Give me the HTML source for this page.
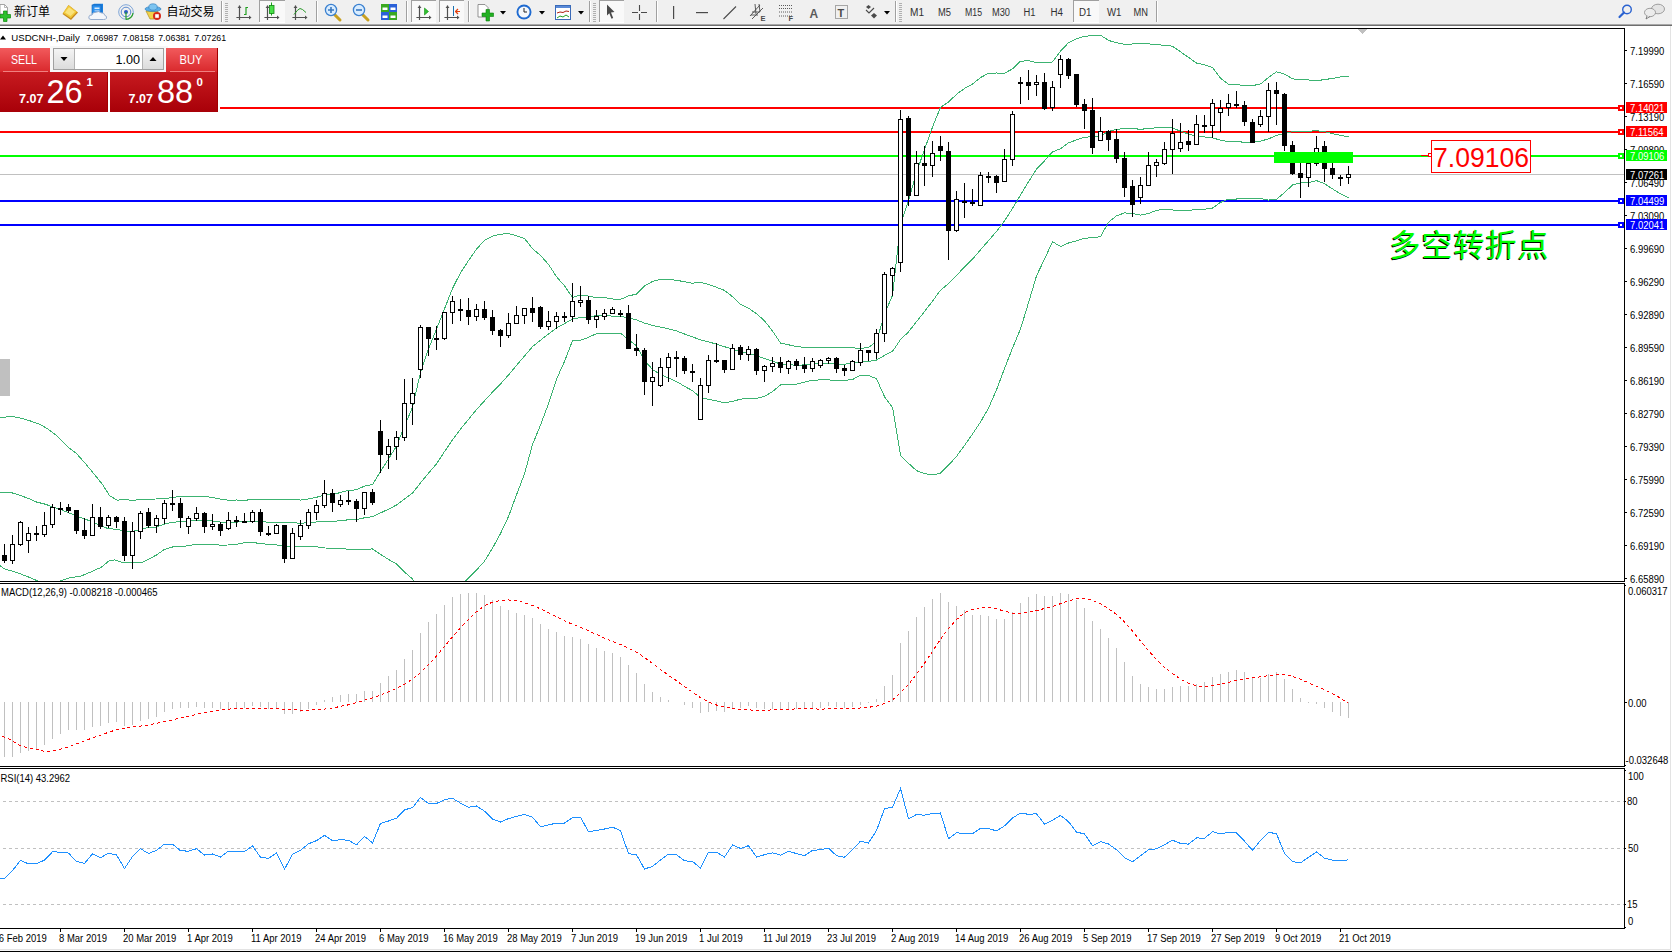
<!DOCTYPE html>
<html><head><meta charset="utf-8"><title>USDCNH Daily</title>
<style>
html,body{margin:0;padding:0;width:1672px;height:952px;overflow:hidden;background:#fff;}
svg{display:block;}
text{white-space:pre;}
</style></head><body>
<svg width="1672" height="952" viewBox="0 0 1672 952">
<defs><clipPath id="cm"><rect x="0" y="29" width="1624" height="552"/></clipPath><clipPath id="cmacd"><rect x="0" y="584" width="1624" height="182"/></clipPath><clipPath id="crsi"><rect x="0" y="769" width="1624" height="159"/></clipPath><linearGradient id="gTab" x1="0" y1="0" x2="0" y2="1"><stop offset="0" stop-color="#f25a5c"/><stop offset="1" stop-color="#d9282c"/></linearGradient><linearGradient id="gBig" x1="0" y1="0" x2="0" y2="1"><stop offset="0" stop-color="#d92a2e"/><stop offset="1" stop-color="#a80008"/></linearGradient><linearGradient id="gBtn" x1="0" y1="0" x2="0" y2="1"><stop offset="0" stop-color="#f4f4f4"/><stop offset="1" stop-color="#dcdcdc"/></linearGradient></defs>
<rect x="0" y="0" width="1672" height="952" fill="#ffffff"/>
<rect x="0" y="0" width="1672" height="24" fill="#f0f0f0"/>
<rect x="0" y="24" width="1672" height="1" fill="#a8a8a8"/>
<rect x="0" y="25" width="1672" height="1" fill="#6e6e6e"/>
<rect x="1670" y="26" width="1" height="924" fill="#e3e3e3"/>
<rect x="0" y="949" width="1671" height="1" fill="#e3e3e3"/>
<rect x="0" y="950" width="1672" height="1" fill="#f6f6f6"/>
<rect x="0" y="951" width="1672" height="1" fill="#000000"/>
<g shape-rendering="crispEdges">
<rect x="0" y="28" width="1625" height="1" fill="#000"/>
<rect x="0" y="581" width="1625" height="1" fill="#000"/>
<rect x="0" y="583" width="1625" height="1" fill="#000"/>
<rect x="0" y="766" width="1625" height="1" fill="#000"/>
<rect x="0" y="768" width="1625" height="1" fill="#000"/>
<rect x="0" y="928" width="1625" height="1" fill="#000"/>
<rect x="1624" y="28" width="1" height="554" fill="#000"/>
<rect x="1624" y="583" width="1" height="184" fill="#000"/>
<rect x="1624" y="768" width="1" height="161" fill="#000"/>
<polygon points="1357.5,29 1367.5,29 1362.5,34.5" fill="#c0c0c0"/>
<rect x="0" y="359" width="10" height="37" fill="#c0c0c0"/>
<rect x="1625" y="50" width="2" height="1" fill="#000"/>
<rect x="1625" y="83" width="2" height="1" fill="#000"/>
<rect x="1625" y="116" width="2" height="1" fill="#000"/>
<rect x="1625" y="149" width="2" height="1" fill="#000"/>
<rect x="1625" y="182" width="2" height="1" fill="#000"/>
<rect x="1625" y="215" width="2" height="1" fill="#000"/>
<rect x="1625" y="248" width="2" height="1" fill="#000"/>
<rect x="1625" y="281" width="2" height="1" fill="#000"/>
<rect x="1625" y="314" width="2" height="1" fill="#000"/>
<rect x="1625" y="347" width="2" height="1" fill="#000"/>
<rect x="1625" y="380" width="2" height="1" fill="#000"/>
<rect x="1625" y="413" width="2" height="1" fill="#000"/>
<rect x="1625" y="446" width="2" height="1" fill="#000"/>
<rect x="1625" y="479" width="2" height="1" fill="#000"/>
<rect x="1625" y="512" width="2" height="1" fill="#000"/>
<rect x="1625" y="545" width="2" height="1" fill="#000"/>
<rect x="1625" y="578" width="2" height="1" fill="#000"/>
<rect x="0" y="107" width="1618" height="2" fill="#ff0000"/>
<rect x="0" y="131" width="1618" height="2" fill="#ff0000"/>
<rect x="0" y="155" width="1618" height="2" fill="#00ff00"/>
<rect x="0" y="174" width="1624" height="1" fill="#c0c0c0"/>
<rect x="0" y="200" width="1618" height="2" fill="#0000ff"/>
<rect x="0" y="224" width="1618" height="2" fill="#0000ff"/>
<rect x="1618" y="105" width="6" height="6" fill="#ff0000"/>
<rect x="1620" y="107" width="2" height="2" fill="#ffffff"/>
<rect x="1618" y="129" width="6" height="6" fill="#ff0000"/>
<rect x="1620" y="131" width="2" height="2" fill="#ffffff"/>
<rect x="1618" y="153" width="6" height="6" fill="#00ff00"/>
<rect x="1620" y="155" width="2" height="2" fill="#ffffff"/>
<rect x="1618" y="198" width="6" height="6" fill="#0000ff"/>
<rect x="1620" y="200" width="2" height="2" fill="#ffffff"/>
<rect x="1618" y="222" width="6" height="6" fill="#0000ff"/>
<rect x="1620" y="224" width="2" height="2" fill="#ffffff"/>
</g>
<g shape-rendering="crispEdges" clip-path="url(#cm)">
<polyline points="-3.5,418.0 0.5,417.5 12.5,416.5 22.5,418.5 30.5,421.0 40.5,424.5 48.5,429.5 56.5,435.5 68.5,447.5 76.5,453.5 84.5,462.5 94.5,474.5 102.5,484.5 109.5,495.5 117.1,500.1 127.1,499.6 133.1,501.1 139.2,499.1 148.5,499.1 156.5,499.0 164.5,498.9 172.5,497.2 180.5,496.8 188.5,496.6 196.5,496.1 204.5,496.1 212.5,497.6 220.5,499.1 228.5,500.2 236.5,500.0 244.5,500.2 252.5,499.7 260.5,499.6 268.5,499.8 276.5,500.0 284.5,499.2 292.5,499.2 300.5,500.1 308.5,499.0 316.5,497.3 324.5,495.0 332.5,494.8 340.5,492.4 348.5,490.4 356.5,489.8 364.5,486.1 372.5,484.5 380.5,471.5 388.5,458.9 396.5,446.2 404.5,426.1 412.5,407.3 420.5,372.7 428.5,349.0 436.5,329.1 444.5,308.9 452.5,288.4 460.5,272.8 468.5,260.6 476.5,249.1 484.5,240.3 492.5,236.1 500.5,234.3 508.5,233.5 516.5,235.8 524.5,238.4 532.5,248.7 540.5,255.4 548.5,264.4 556.5,276.7 564.5,285.8 572.5,297.4 580.5,295.0 588.5,296.1 596.5,297.6 604.5,297.6 612.5,299.0 620.5,299.4 628.5,295.9 636.5,294.1 644.5,285.9 652.5,281.4 660.5,279.5 668.5,279.4 676.5,280.3 684.5,281.7 692.5,283.2 700.5,282.4 708.5,284.4 716.5,287.3 724.5,290.4 732.5,296.7 740.5,304.3 748.5,308.2 756.5,313.6 764.5,320.8 772.5,331.0 780.5,343.0 788.5,344.8 796.5,346.6 804.5,347.4 812.5,347.6 820.5,347.3 828.5,347.4 836.5,347.9 844.5,347.9 852.5,347.8 860.5,348.5 868.5,347.5 876.5,341.6 884.5,314.1 892.5,295.4 900.5,224.1 908.5,200.6 916.5,172.6 924.5,149.5 932.5,127.1 940.5,107.3 948.5,102.1 956.5,94.3 964.5,88.5 972.5,84.0 980.5,77.6 988.5,73.3 996.5,73.0 1004.5,73.2 1012.5,68.9 1020.5,61.2 1028.5,60.7 1036.5,62.5 1044.5,62.7 1052.5,62.0 1060.5,51.2 1068.5,42.7 1076.5,38.9 1084.5,36.1 1092.5,35.9 1100.5,35.2 1108.5,40.4 1116.5,42.8 1124.5,44.3 1132.5,44.0 1140.5,43.3 1148.5,43.8 1156.5,44.9 1164.5,45.1 1172.5,46.2 1180.5,51.8 1188.5,57.4 1196.5,63.0 1204.5,64.8 1212.5,67.5 1220.5,78.1 1228.5,84.3 1236.5,84.3 1244.5,85.8 1252.5,85.6 1260.5,84.0 1268.5,77.4 1276.5,71.8 1284.5,74.1 1292.5,78.8 1300.5,79.9 1308.5,80.0 1316.5,80.7 1324.5,79.6 1332.5,78.4 1340.5,77.0 1348.5,76.1" fill="none" stroke="#3cb371" stroke-width="1"/>
<polyline points="-3.5,491.0 0.5,492.3 12.5,493.0 20.5,495.5 28.5,498.5 36.5,502.0 44.5,504.0 50.7,506.1 60.5,509.5 70.8,513.6 80.5,517.5 90.9,521.2 101.0,525.7 107.0,528.2 121.1,530.2 129.1,531.7 136.1,530.7 143.2,528.7 148.5,527.5 156.5,527.0 164.5,524.1 172.5,522.1 180.5,521.9 188.5,521.1 196.5,520.1 204.5,520.1 212.5,521.0 220.5,522.1 228.5,522.6 236.5,522.1 244.5,521.5 252.5,521.2 260.5,521.5 268.5,522.2 276.5,522.5 284.5,522.6 292.5,522.7 300.5,523.3 308.5,522.6 316.5,522.0 324.5,521.5 332.5,521.5 340.5,520.6 348.5,519.8 356.5,519.5 364.5,517.8 372.5,516.7 380.5,512.9 388.5,509.2 396.5,505.0 404.5,499.1 412.5,493.1 420.5,482.9 428.5,473.2 436.5,463.9 444.5,451.6 452.5,439.9 460.5,429.1 468.5,419.4 476.5,409.6 484.5,400.8 492.5,392.1 500.5,383.9 508.5,375.0 516.5,365.4 524.5,356.1 532.5,346.6 540.5,340.2 548.5,334.0 556.5,327.9 564.5,323.6 572.5,319.0 580.5,317.6 588.5,316.7 596.5,315.6 604.5,315.6 612.5,316.1 620.5,316.2 628.5,317.9 636.5,319.9 644.5,323.1 652.5,325.4 660.5,327.1 668.5,328.8 676.5,330.9 684.5,334.0 692.5,336.9 700.5,339.9 708.5,341.9 716.5,344.1 724.5,346.7 732.5,349.1 740.5,351.8 748.5,353.2 756.5,355.9 764.5,358.6 772.5,361.3 780.5,364.0 788.5,364.6 796.5,365.4 804.5,364.8 812.5,363.9 820.5,363.6 828.5,363.6 836.5,364.1 844.5,364.1 852.5,363.6 860.5,361.9 868.5,361.5 876.5,360.1 884.5,355.4 892.5,351.4 900.5,339.6 908.5,331.9 916.5,321.6 924.5,311.6 932.5,301.1 940.5,290.2 948.5,283.6 956.5,275.4 964.5,267.0 972.5,259.1 980.5,249.8 988.5,240.7 996.5,231.4 1004.5,220.8 1012.5,208.5 1020.5,195.1 1028.5,181.8 1036.5,169.2 1044.5,160.9 1052.5,151.8 1060.5,148.8 1068.5,142.8 1076.5,139.9 1084.5,137.2 1092.5,136.8 1100.5,135.9 1108.5,131.3 1116.5,129.3 1124.5,128.6 1132.5,128.7 1140.5,129.2 1148.5,128.7 1156.5,127.7 1164.5,127.2 1172.5,128.1 1180.5,131.1 1188.5,134.1 1196.5,136.2 1204.5,137.0 1212.5,137.8 1220.5,140.2 1228.5,141.7 1236.5,141.7 1244.5,142.2 1252.5,141.9 1260.5,141.2 1268.5,138.8 1276.5,135.5 1284.5,133.4 1292.5,131.8 1300.5,131.4 1308.5,131.3 1316.5,130.7 1324.5,131.6 1332.5,133.7 1340.5,135.4 1348.5,136.9" fill="none" stroke="#3cb371" stroke-width="1"/>
<polyline points="-3.5,564.0 0.5,565.9 4.5,568.9 11.5,570.9 20.5,573.9 28.5,577.0 35.5,580.0 44.5,583.5 52.5,583.5 62.8,580.0 70.8,577.5 79.9,576.5 90.9,571.9 101.0,567.4 109.0,560.9 115.0,559.9 124.1,562.9 141.2,562.9 149.2,558.9 156.5,555.0 164.5,549.4 172.5,547.0 180.5,546.9 188.5,545.6 196.5,544.1 204.5,544.2 212.5,544.4 220.5,545.1 228.5,545.0 236.5,544.3 244.5,542.7 252.5,542.7 260.5,543.3 268.5,544.7 276.5,544.9 284.5,546.0 292.5,546.2 300.5,546.5 308.5,546.3 316.5,546.7 324.5,548.0 332.5,548.1 340.5,548.8 348.5,549.1 356.5,549.2 364.5,549.5 372.5,548.9 380.5,554.3 388.5,559.5 396.5,563.8 404.5,572.1 412.5,579.0 420.5,593.2 428.5,597.4 436.5,598.6 444.5,594.2 452.5,591.5 460.5,585.5 468.5,578.1 476.5,570.0 484.5,561.2 492.5,548.2 500.5,533.5 508.5,516.5 516.5,494.9 524.5,473.9 532.5,444.6 540.5,425.1 548.5,403.6 556.5,379.2 564.5,361.4 572.5,340.6 580.5,340.3 588.5,337.3 596.5,333.6 604.5,333.7 612.5,333.1 620.5,333.1 628.5,339.8 636.5,345.7 644.5,360.3 652.5,369.5 660.5,374.6 668.5,378.1 676.5,381.5 684.5,386.3 692.5,390.7 700.5,397.4 708.5,399.3 716.5,400.8 724.5,403.0 732.5,401.4 740.5,399.2 748.5,398.3 756.5,398.3 764.5,396.4 772.5,391.6 780.5,385.0 788.5,384.5 796.5,384.2 804.5,382.1 812.5,380.3 820.5,379.9 828.5,379.9 836.5,380.4 844.5,380.4 852.5,379.5 860.5,375.3 868.5,375.5 876.5,378.7 884.5,396.7 892.5,407.4 900.5,455.2 908.5,463.3 916.5,470.6 924.5,473.6 932.5,475.0 940.5,473.1 948.5,465.2 956.5,456.4 964.5,445.5 972.5,434.1 980.5,422.0 988.5,408.1 996.5,389.8 1004.5,368.5 1012.5,348.1 1020.5,329.0 1028.5,302.8 1036.5,275.9 1044.5,259.1 1052.5,241.7 1060.5,246.5 1068.5,243.0 1076.5,240.9 1084.5,238.2 1092.5,237.8 1100.5,236.6 1108.5,222.3 1116.5,215.8 1124.5,212.9 1132.5,213.4 1140.5,215.1 1148.5,213.5 1156.5,210.4 1164.5,209.2 1172.5,210.0 1180.5,210.4 1188.5,210.7 1196.5,209.3 1204.5,209.2 1212.5,208.1 1220.5,202.4 1228.5,199.0 1236.5,199.0 1244.5,198.6 1252.5,198.3 1260.5,198.4 1268.5,200.1 1276.5,199.2 1284.5,192.7 1292.5,184.9 1300.5,183.0 1308.5,182.7 1316.5,180.6 1324.5,183.6 1332.5,188.9 1340.5,193.8 1348.5,197.7" fill="none" stroke="#3cb371" stroke-width="1"/>
</g>
<g shape-rendering="crispEdges">
<rect x="4" y="544" width="1" height="19" fill="#000"/>
<rect x="2" y="555" width="5" height="6" fill="#000"/>
<rect x="12" y="535" width="1" height="29" fill="#000"/>
<rect x="10" y="544" width="5" height="17" fill="#000"/>
<rect x="11" y="545" width="3" height="15" fill="#fff"/>
<rect x="20" y="521" width="1" height="25" fill="#000"/>
<rect x="18" y="522" width="5" height="23" fill="#000"/>
<rect x="19" y="523" width="3" height="21" fill="#fff"/>
<rect x="28" y="527" width="1" height="26" fill="#000"/>
<rect x="26" y="533" width="5" height="8" fill="#000"/>
<rect x="27" y="534" width="3" height="6" fill="#fff"/>
<rect x="36" y="526" width="1" height="15" fill="#000"/>
<rect x="34" y="533" width="5" height="2" fill="#000"/>
<rect x="44" y="512" width="1" height="25" fill="#000"/>
<rect x="42" y="525" width="5" height="10" fill="#000"/>
<rect x="43" y="526" width="3" height="8" fill="#fff"/>
<rect x="52" y="504" width="1" height="24" fill="#000"/>
<rect x="50" y="507" width="5" height="18" fill="#000"/>
<rect x="51" y="508" width="3" height="16" fill="#fff"/>
<rect x="60" y="502" width="1" height="13" fill="#000"/>
<rect x="58" y="508" width="5" height="2" fill="#000"/>
<rect x="68" y="504" width="1" height="9" fill="#000"/>
<rect x="66" y="507" width="5" height="4" fill="#000"/>
<rect x="76" y="510" width="1" height="24" fill="#000"/>
<rect x="74" y="510" width="5" height="21" fill="#000"/>
<rect x="84" y="518" width="1" height="21" fill="#000"/>
<rect x="82" y="530" width="5" height="6" fill="#000"/>
<rect x="92" y="504" width="1" height="32" fill="#000"/>
<rect x="90" y="517" width="5" height="19" fill="#000"/>
<rect x="91" y="518" width="3" height="17" fill="#fff"/>
<rect x="100" y="507" width="1" height="22" fill="#000"/>
<rect x="98" y="517" width="5" height="10" fill="#000"/>
<rect x="108" y="515" width="1" height="13" fill="#000"/>
<rect x="106" y="517" width="5" height="9" fill="#000"/>
<rect x="107" y="518" width="3" height="7" fill="#fff"/>
<rect x="116" y="516" width="1" height="12" fill="#000"/>
<rect x="114" y="517" width="5" height="5" fill="#000"/>
<rect x="124" y="517" width="1" height="44" fill="#000"/>
<rect x="122" y="521" width="5" height="35" fill="#000"/>
<rect x="132" y="522" width="1" height="47" fill="#000"/>
<rect x="130" y="531" width="5" height="25" fill="#000"/>
<rect x="131" y="532" width="3" height="23" fill="#fff"/>
<rect x="140" y="511" width="1" height="28" fill="#000"/>
<rect x="138" y="513" width="5" height="19" fill="#000"/>
<rect x="139" y="514" width="3" height="17" fill="#fff"/>
<rect x="148" y="508" width="1" height="20" fill="#000"/>
<rect x="146" y="512" width="5" height="14" fill="#000"/>
<rect x="156" y="515" width="1" height="18" fill="#000"/>
<rect x="154" y="518" width="5" height="8" fill="#000"/>
<rect x="155" y="519" width="3" height="6" fill="#fff"/>
<rect x="164" y="500" width="1" height="24" fill="#000"/>
<rect x="162" y="503" width="5" height="16" fill="#000"/>
<rect x="163" y="504" width="3" height="14" fill="#fff"/>
<rect x="172" y="490" width="1" height="21" fill="#000"/>
<rect x="170" y="503" width="5" height="2" fill="#000"/>
<rect x="180" y="498" width="1" height="30" fill="#000"/>
<rect x="178" y="503" width="5" height="15" fill="#000"/>
<rect x="188" y="516" width="1" height="18" fill="#000"/>
<rect x="186" y="518" width="5" height="9" fill="#000"/>
<rect x="187" y="519" width="3" height="7" fill="#fff"/>
<rect x="196" y="507" width="1" height="14" fill="#000"/>
<rect x="194" y="513" width="5" height="6" fill="#000"/>
<rect x="195" y="514" width="3" height="4" fill="#fff"/>
<rect x="204" y="512" width="1" height="21" fill="#000"/>
<rect x="202" y="513" width="5" height="14" fill="#000"/>
<rect x="212" y="514" width="1" height="16" fill="#000"/>
<rect x="210" y="524" width="5" height="3" fill="#000"/>
<rect x="211" y="525" width="3" height="1" fill="#fff"/>
<rect x="220" y="522" width="1" height="14" fill="#000"/>
<rect x="218" y="524" width="5" height="7" fill="#000"/>
<rect x="228" y="512" width="1" height="18" fill="#000"/>
<rect x="226" y="520" width="5" height="9" fill="#000"/>
<rect x="227" y="521" width="3" height="7" fill="#fff"/>
<rect x="236" y="516" width="1" height="11" fill="#000"/>
<rect x="234" y="520" width="5" height="2" fill="#000"/>
<rect x="244" y="513" width="1" height="10" fill="#000"/>
<rect x="242" y="521" width="5" height="2" fill="#000"/>
<rect x="252" y="510" width="1" height="13" fill="#000"/>
<rect x="250" y="512" width="5" height="10" fill="#000"/>
<rect x="251" y="513" width="3" height="8" fill="#fff"/>
<rect x="260" y="509" width="1" height="27" fill="#000"/>
<rect x="258" y="512" width="5" height="20" fill="#000"/>
<rect x="268" y="526" width="1" height="10" fill="#000"/>
<rect x="266" y="533" width="5" height="2" fill="#000"/>
<rect x="276" y="524" width="1" height="10" fill="#000"/>
<rect x="274" y="525" width="5" height="9" fill="#000"/>
<rect x="275" y="526" width="3" height="7" fill="#fff"/>
<rect x="284" y="525" width="1" height="38" fill="#000"/>
<rect x="282" y="525" width="5" height="34" fill="#000"/>
<rect x="292" y="528" width="1" height="31" fill="#000"/>
<rect x="290" y="533" width="5" height="26" fill="#000"/>
<rect x="291" y="534" width="3" height="24" fill="#fff"/>
<rect x="300" y="520" width="1" height="20" fill="#000"/>
<rect x="298" y="525" width="5" height="12" fill="#000"/>
<rect x="299" y="526" width="3" height="10" fill="#fff"/>
<rect x="308" y="509" width="1" height="20" fill="#000"/>
<rect x="306" y="512" width="5" height="14" fill="#000"/>
<rect x="307" y="513" width="3" height="12" fill="#fff"/>
<rect x="316" y="500" width="1" height="20" fill="#000"/>
<rect x="314" y="505" width="5" height="8" fill="#000"/>
<rect x="315" y="506" width="3" height="6" fill="#fff"/>
<rect x="324" y="480" width="1" height="28" fill="#000"/>
<rect x="322" y="493" width="5" height="13" fill="#000"/>
<rect x="323" y="494" width="3" height="11" fill="#fff"/>
<rect x="332" y="489" width="1" height="23" fill="#000"/>
<rect x="330" y="493" width="5" height="10" fill="#000"/>
<rect x="340" y="495" width="1" height="12" fill="#000"/>
<rect x="338" y="500" width="5" height="5" fill="#000"/>
<rect x="339" y="501" width="3" height="3" fill="#fff"/>
<rect x="348" y="491" width="1" height="14" fill="#000"/>
<rect x="346" y="500" width="5" height="2" fill="#000"/>
<rect x="356" y="499" width="1" height="23" fill="#000"/>
<rect x="354" y="501" width="5" height="8" fill="#000"/>
<rect x="364" y="492" width="1" height="23" fill="#000"/>
<rect x="362" y="492" width="5" height="17" fill="#000"/>
<rect x="363" y="493" width="3" height="15" fill="#fff"/>
<rect x="372" y="489" width="1" height="16" fill="#000"/>
<rect x="370" y="492" width="5" height="11" fill="#000"/>
<rect x="380" y="420" width="1" height="53" fill="#000"/>
<rect x="378" y="431" width="5" height="24" fill="#000"/>
<rect x="388" y="439" width="1" height="30" fill="#000"/>
<rect x="386" y="446" width="5" height="9" fill="#000"/>
<rect x="387" y="447" width="3" height="7" fill="#fff"/>
<rect x="396" y="431" width="1" height="29" fill="#000"/>
<rect x="394" y="437" width="5" height="10" fill="#000"/>
<rect x="395" y="438" width="3" height="8" fill="#fff"/>
<rect x="404" y="379" width="1" height="62" fill="#000"/>
<rect x="402" y="403" width="5" height="35" fill="#000"/>
<rect x="403" y="404" width="3" height="33" fill="#fff"/>
<rect x="412" y="378" width="1" height="47" fill="#000"/>
<rect x="410" y="393" width="5" height="11" fill="#000"/>
<rect x="411" y="394" width="3" height="9" fill="#fff"/>
<rect x="420" y="325" width="1" height="53" fill="#000"/>
<rect x="418" y="327" width="5" height="43" fill="#000"/>
<rect x="419" y="328" width="3" height="41" fill="#fff"/>
<rect x="428" y="327" width="1" height="29" fill="#000"/>
<rect x="426" y="327" width="5" height="12" fill="#000"/>
<rect x="436" y="326" width="1" height="24" fill="#000"/>
<rect x="434" y="338" width="5" height="2" fill="#000"/>
<rect x="444" y="312" width="1" height="28" fill="#000"/>
<rect x="442" y="312" width="5" height="27" fill="#000"/>
<rect x="443" y="313" width="3" height="25" fill="#fff"/>
<rect x="452" y="296" width="1" height="28" fill="#000"/>
<rect x="450" y="301" width="5" height="12" fill="#000"/>
<rect x="451" y="302" width="3" height="10" fill="#fff"/>
<rect x="460" y="299" width="1" height="22" fill="#000"/>
<rect x="458" y="309" width="5" height="2" fill="#000"/>
<rect x="468" y="298" width="1" height="27" fill="#000"/>
<rect x="466" y="310" width="5" height="7" fill="#000"/>
<rect x="476" y="304" width="1" height="17" fill="#000"/>
<rect x="474" y="309" width="5" height="8" fill="#000"/>
<rect x="475" y="310" width="3" height="6" fill="#fff"/>
<rect x="484" y="301" width="1" height="19" fill="#000"/>
<rect x="482" y="309" width="5" height="9" fill="#000"/>
<rect x="492" y="310" width="1" height="25" fill="#000"/>
<rect x="490" y="317" width="5" height="14" fill="#000"/>
<rect x="500" y="329" width="1" height="18" fill="#000"/>
<rect x="498" y="330" width="5" height="6" fill="#000"/>
<rect x="508" y="313" width="1" height="25" fill="#000"/>
<rect x="506" y="323" width="5" height="13" fill="#000"/>
<rect x="507" y="324" width="3" height="11" fill="#fff"/>
<rect x="516" y="306" width="1" height="18" fill="#000"/>
<rect x="514" y="315" width="5" height="9" fill="#000"/>
<rect x="515" y="316" width="3" height="7" fill="#fff"/>
<rect x="524" y="308" width="1" height="16" fill="#000"/>
<rect x="522" y="308" width="5" height="8" fill="#000"/>
<rect x="523" y="309" width="3" height="6" fill="#fff"/>
<rect x="532" y="297" width="1" height="25" fill="#000"/>
<rect x="530" y="308" width="5" height="5" fill="#000"/>
<rect x="540" y="306" width="1" height="23" fill="#000"/>
<rect x="538" y="307" width="5" height="20" fill="#000"/>
<rect x="548" y="311" width="1" height="19" fill="#000"/>
<rect x="546" y="321" width="5" height="6" fill="#000"/>
<rect x="547" y="322" width="3" height="4" fill="#fff"/>
<rect x="556" y="312" width="1" height="17" fill="#000"/>
<rect x="554" y="316" width="5" height="6" fill="#000"/>
<rect x="555" y="317" width="3" height="4" fill="#fff"/>
<rect x="564" y="312" width="1" height="10" fill="#000"/>
<rect x="562" y="316" width="5" height="2" fill="#000"/>
<rect x="572" y="283" width="1" height="39" fill="#000"/>
<rect x="570" y="301" width="5" height="16" fill="#000"/>
<rect x="571" y="302" width="3" height="14" fill="#fff"/>
<rect x="580" y="286" width="1" height="21" fill="#000"/>
<rect x="578" y="300" width="5" height="3" fill="#000"/>
<rect x="579" y="301" width="3" height="1" fill="#fff"/>
<rect x="588" y="296" width="1" height="28" fill="#000"/>
<rect x="586" y="300" width="5" height="20" fill="#000"/>
<rect x="596" y="310" width="1" height="18" fill="#000"/>
<rect x="594" y="316" width="5" height="4" fill="#000"/>
<rect x="595" y="317" width="3" height="2" fill="#fff"/>
<rect x="604" y="309" width="1" height="11" fill="#000"/>
<rect x="602" y="313" width="5" height="4" fill="#000"/>
<rect x="603" y="314" width="3" height="2" fill="#fff"/>
<rect x="612" y="307" width="1" height="7" fill="#000"/>
<rect x="610" y="309" width="5" height="5" fill="#000"/>
<rect x="611" y="310" width="3" height="3" fill="#fff"/>
<rect x="620" y="310" width="1" height="7" fill="#000"/>
<rect x="618" y="313" width="5" height="2" fill="#000"/>
<rect x="628" y="305" width="1" height="44" fill="#000"/>
<rect x="626" y="313" width="5" height="36" fill="#000"/>
<rect x="636" y="334" width="1" height="22" fill="#000"/>
<rect x="634" y="348" width="5" height="3" fill="#000"/>
<rect x="644" y="348" width="1" height="47" fill="#000"/>
<rect x="642" y="350" width="5" height="32" fill="#000"/>
<rect x="652" y="362" width="1" height="44" fill="#000"/>
<rect x="650" y="377" width="5" height="5" fill="#000"/>
<rect x="651" y="378" width="3" height="3" fill="#fff"/>
<rect x="660" y="358" width="1" height="29" fill="#000"/>
<rect x="658" y="367" width="5" height="19" fill="#000"/>
<rect x="659" y="368" width="3" height="17" fill="#fff"/>
<rect x="668" y="353" width="1" height="29" fill="#000"/>
<rect x="666" y="357" width="5" height="11" fill="#000"/>
<rect x="667" y="358" width="3" height="9" fill="#fff"/>
<rect x="676" y="351" width="1" height="26" fill="#000"/>
<rect x="674" y="357" width="5" height="2" fill="#000"/>
<rect x="684" y="356" width="1" height="18" fill="#000"/>
<rect x="682" y="358" width="5" height="13" fill="#000"/>
<rect x="692" y="364" width="1" height="18" fill="#000"/>
<rect x="690" y="371" width="5" height="2" fill="#000"/>
<rect x="700" y="378" width="1" height="42" fill="#000"/>
<rect x="698" y="385" width="5" height="35" fill="#000"/>
<rect x="699" y="386" width="3" height="33" fill="#fff"/>
<rect x="708" y="355" width="1" height="38" fill="#000"/>
<rect x="706" y="360" width="5" height="26" fill="#000"/>
<rect x="707" y="361" width="3" height="24" fill="#fff"/>
<rect x="716" y="343" width="1" height="20" fill="#000"/>
<rect x="714" y="360" width="5" height="2" fill="#000"/>
<rect x="724" y="360" width="1" height="13" fill="#000"/>
<rect x="722" y="360" width="5" height="10" fill="#000"/>
<rect x="732" y="344" width="1" height="26" fill="#000"/>
<rect x="730" y="348" width="5" height="22" fill="#000"/>
<rect x="731" y="349" width="3" height="20" fill="#fff"/>
<rect x="740" y="345" width="1" height="15" fill="#000"/>
<rect x="738" y="347" width="5" height="8" fill="#000"/>
<rect x="748" y="346" width="1" height="15" fill="#000"/>
<rect x="746" y="349" width="5" height="6" fill="#000"/>
<rect x="747" y="350" width="3" height="4" fill="#fff"/>
<rect x="756" y="348" width="1" height="27" fill="#000"/>
<rect x="754" y="349" width="5" height="22" fill="#000"/>
<rect x="764" y="365" width="1" height="17" fill="#000"/>
<rect x="762" y="366" width="5" height="5" fill="#000"/>
<rect x="763" y="367" width="3" height="3" fill="#fff"/>
<rect x="772" y="357" width="1" height="15" fill="#000"/>
<rect x="770" y="363" width="5" height="4" fill="#000"/>
<rect x="771" y="364" width="3" height="2" fill="#fff"/>
<rect x="780" y="357" width="1" height="16" fill="#000"/>
<rect x="778" y="362" width="5" height="6" fill="#000"/>
<rect x="788" y="360" width="1" height="14" fill="#000"/>
<rect x="786" y="361" width="5" height="8" fill="#000"/>
<rect x="787" y="362" width="3" height="6" fill="#fff"/>
<rect x="796" y="359" width="1" height="11" fill="#000"/>
<rect x="794" y="361" width="5" height="5" fill="#000"/>
<rect x="804" y="357" width="1" height="16" fill="#000"/>
<rect x="802" y="365" width="5" height="4" fill="#000"/>
<rect x="812" y="358" width="1" height="14" fill="#000"/>
<rect x="810" y="361" width="5" height="8" fill="#000"/>
<rect x="811" y="362" width="3" height="6" fill="#fff"/>
<rect x="820" y="359" width="1" height="9" fill="#000"/>
<rect x="818" y="360" width="5" height="6" fill="#000"/>
<rect x="819" y="361" width="3" height="4" fill="#fff"/>
<rect x="828" y="357" width="1" height="7" fill="#000"/>
<rect x="826" y="358" width="5" height="3" fill="#000"/>
<rect x="827" y="359" width="3" height="1" fill="#fff"/>
<rect x="836" y="357" width="1" height="16" fill="#000"/>
<rect x="834" y="358" width="5" height="11" fill="#000"/>
<rect x="844" y="365" width="1" height="11" fill="#000"/>
<rect x="842" y="368" width="5" height="3" fill="#000"/>
<rect x="852" y="360" width="1" height="11" fill="#000"/>
<rect x="850" y="361" width="5" height="10" fill="#000"/>
<rect x="851" y="362" width="3" height="8" fill="#fff"/>
<rect x="860" y="343" width="1" height="23" fill="#000"/>
<rect x="858" y="350" width="5" height="13" fill="#000"/>
<rect x="859" y="351" width="3" height="11" fill="#fff"/>
<rect x="868" y="350" width="1" height="11" fill="#000"/>
<rect x="866" y="350" width="5" height="3" fill="#000"/>
<rect x="876" y="329" width="1" height="30" fill="#000"/>
<rect x="874" y="333" width="5" height="20" fill="#000"/>
<rect x="875" y="334" width="3" height="18" fill="#fff"/>
<rect x="884" y="272" width="1" height="70" fill="#000"/>
<rect x="882" y="274" width="5" height="60" fill="#000"/>
<rect x="883" y="275" width="3" height="58" fill="#fff"/>
<rect x="892" y="267" width="1" height="29" fill="#000"/>
<rect x="890" y="268" width="5" height="8" fill="#000"/>
<rect x="891" y="269" width="3" height="6" fill="#fff"/>
<rect x="900" y="110" width="1" height="162" fill="#000"/>
<rect x="898" y="119" width="5" height="144" fill="#000"/>
<rect x="899" y="120" width="3" height="142" fill="#fff"/>
<rect x="908" y="116" width="1" height="90" fill="#000"/>
<rect x="906" y="118" width="5" height="78" fill="#000"/>
<rect x="916" y="151" width="1" height="45" fill="#000"/>
<rect x="914" y="163" width="5" height="33" fill="#000"/>
<rect x="915" y="164" width="3" height="31" fill="#fff"/>
<rect x="924" y="146" width="1" height="40" fill="#000"/>
<rect x="922" y="163" width="5" height="3" fill="#000"/>
<rect x="932" y="141" width="1" height="36" fill="#000"/>
<rect x="930" y="153" width="5" height="13" fill="#000"/>
<rect x="931" y="154" width="3" height="11" fill="#fff"/>
<rect x="940" y="136" width="1" height="25" fill="#000"/>
<rect x="938" y="146" width="5" height="5" fill="#000"/>
<rect x="948" y="142" width="1" height="118" fill="#000"/>
<rect x="946" y="151" width="5" height="80" fill="#000"/>
<rect x="956" y="191" width="1" height="41" fill="#000"/>
<rect x="954" y="199" width="5" height="32" fill="#000"/>
<rect x="955" y="200" width="3" height="30" fill="#fff"/>
<rect x="964" y="183" width="1" height="35" fill="#000"/>
<rect x="962" y="201" width="5" height="2" fill="#000"/>
<rect x="972" y="189" width="1" height="17" fill="#000"/>
<rect x="970" y="202" width="5" height="2" fill="#000"/>
<rect x="980" y="172" width="1" height="34" fill="#000"/>
<rect x="978" y="175" width="5" height="31" fill="#000"/>
<rect x="979" y="176" width="3" height="29" fill="#fff"/>
<rect x="988" y="172" width="1" height="11" fill="#000"/>
<rect x="986" y="176" width="5" height="2" fill="#000"/>
<rect x="996" y="175" width="1" height="18" fill="#000"/>
<rect x="994" y="176" width="5" height="7" fill="#000"/>
<rect x="1004" y="149" width="1" height="33" fill="#000"/>
<rect x="1002" y="159" width="5" height="23" fill="#000"/>
<rect x="1003" y="160" width="3" height="21" fill="#fff"/>
<rect x="1012" y="111" width="1" height="55" fill="#000"/>
<rect x="1010" y="114" width="5" height="46" fill="#000"/>
<rect x="1011" y="115" width="3" height="44" fill="#fff"/>
<rect x="1020" y="77" width="1" height="27" fill="#000"/>
<rect x="1018" y="82" width="5" height="2" fill="#000"/>
<rect x="1028" y="70" width="1" height="30" fill="#000"/>
<rect x="1026" y="82" width="5" height="4" fill="#000"/>
<rect x="1036" y="75" width="1" height="21" fill="#000"/>
<rect x="1034" y="82" width="5" height="3" fill="#000"/>
<rect x="1035" y="83" width="3" height="1" fill="#fff"/>
<rect x="1044" y="73" width="1" height="37" fill="#000"/>
<rect x="1042" y="82" width="5" height="27" fill="#000"/>
<rect x="1052" y="81" width="1" height="30" fill="#000"/>
<rect x="1050" y="87" width="5" height="21" fill="#000"/>
<rect x="1051" y="88" width="3" height="19" fill="#fff"/>
<rect x="1060" y="55" width="1" height="33" fill="#000"/>
<rect x="1058" y="59" width="5" height="16" fill="#000"/>
<rect x="1059" y="60" width="3" height="14" fill="#fff"/>
<rect x="1068" y="58" width="1" height="21" fill="#000"/>
<rect x="1066" y="59" width="5" height="17" fill="#000"/>
<rect x="1076" y="74" width="1" height="33" fill="#000"/>
<rect x="1074" y="74" width="5" height="31" fill="#000"/>
<rect x="1084" y="99" width="1" height="30" fill="#000"/>
<rect x="1082" y="104" width="5" height="7" fill="#000"/>
<rect x="1092" y="98" width="1" height="56" fill="#000"/>
<rect x="1090" y="110" width="5" height="38" fill="#000"/>
<rect x="1100" y="117" width="1" height="24" fill="#000"/>
<rect x="1098" y="131" width="5" height="10" fill="#000"/>
<rect x="1099" y="132" width="3" height="8" fill="#fff"/>
<rect x="1108" y="130" width="1" height="21" fill="#000"/>
<rect x="1106" y="131" width="5" height="9" fill="#000"/>
<rect x="1116" y="129" width="1" height="34" fill="#000"/>
<rect x="1114" y="139" width="5" height="20" fill="#000"/>
<rect x="1124" y="152" width="1" height="45" fill="#000"/>
<rect x="1122" y="158" width="5" height="30" fill="#000"/>
<rect x="1132" y="180" width="1" height="37" fill="#000"/>
<rect x="1130" y="186" width="5" height="19" fill="#000"/>
<rect x="1140" y="177" width="1" height="27" fill="#000"/>
<rect x="1138" y="185" width="5" height="13" fill="#000"/>
<rect x="1139" y="186" width="3" height="11" fill="#fff"/>
<rect x="1148" y="152" width="1" height="34" fill="#000"/>
<rect x="1146" y="165" width="5" height="21" fill="#000"/>
<rect x="1147" y="166" width="3" height="19" fill="#fff"/>
<rect x="1156" y="159" width="1" height="18" fill="#000"/>
<rect x="1154" y="162" width="5" height="4" fill="#000"/>
<rect x="1155" y="163" width="3" height="2" fill="#fff"/>
<rect x="1164" y="142" width="1" height="23" fill="#000"/>
<rect x="1162" y="149" width="5" height="15" fill="#000"/>
<rect x="1163" y="150" width="3" height="13" fill="#fff"/>
<rect x="1172" y="119" width="1" height="55" fill="#000"/>
<rect x="1170" y="133" width="5" height="17" fill="#000"/>
<rect x="1171" y="134" width="3" height="15" fill="#fff"/>
<rect x="1180" y="123" width="1" height="29" fill="#000"/>
<rect x="1178" y="142" width="5" height="7" fill="#000"/>
<rect x="1179" y="143" width="3" height="5" fill="#fff"/>
<rect x="1188" y="130" width="1" height="21" fill="#000"/>
<rect x="1186" y="141" width="5" height="4" fill="#000"/>
<rect x="1196" y="115" width="1" height="30" fill="#000"/>
<rect x="1194" y="124" width="5" height="21" fill="#000"/>
<rect x="1195" y="125" width="3" height="19" fill="#fff"/>
<rect x="1204" y="115" width="1" height="18" fill="#000"/>
<rect x="1202" y="125" width="5" height="2" fill="#000"/>
<rect x="1212" y="99" width="1" height="39" fill="#000"/>
<rect x="1210" y="103" width="5" height="23" fill="#000"/>
<rect x="1211" y="104" width="3" height="21" fill="#fff"/>
<rect x="1220" y="100" width="1" height="32" fill="#000"/>
<rect x="1218" y="108" width="5" height="5" fill="#000"/>
<rect x="1219" y="109" width="3" height="3" fill="#fff"/>
<rect x="1228" y="94" width="1" height="22" fill="#000"/>
<rect x="1226" y="103" width="5" height="5" fill="#000"/>
<rect x="1227" y="104" width="3" height="3" fill="#fff"/>
<rect x="1236" y="91" width="1" height="17" fill="#000"/>
<rect x="1234" y="104" width="5" height="2" fill="#000"/>
<rect x="1244" y="101" width="1" height="25" fill="#000"/>
<rect x="1242" y="105" width="5" height="17" fill="#000"/>
<rect x="1252" y="119" width="1" height="24" fill="#000"/>
<rect x="1250" y="122" width="5" height="21" fill="#000"/>
<rect x="1260" y="110" width="1" height="17" fill="#000"/>
<rect x="1258" y="116" width="5" height="9" fill="#000"/>
<rect x="1259" y="117" width="3" height="7" fill="#fff"/>
<rect x="1268" y="83" width="1" height="49" fill="#000"/>
<rect x="1266" y="90" width="5" height="27" fill="#000"/>
<rect x="1267" y="91" width="3" height="25" fill="#fff"/>
<rect x="1276" y="82" width="1" height="43" fill="#000"/>
<rect x="1274" y="90" width="5" height="4" fill="#000"/>
<rect x="1284" y="93" width="1" height="58" fill="#000"/>
<rect x="1282" y="94" width="5" height="52" fill="#000"/>
<rect x="1292" y="141" width="1" height="34" fill="#000"/>
<rect x="1290" y="145" width="5" height="29" fill="#000"/>
<rect x="1300" y="160" width="1" height="38" fill="#000"/>
<rect x="1298" y="173" width="5" height="5" fill="#000"/>
<rect x="1308" y="160" width="1" height="27" fill="#000"/>
<rect x="1306" y="163" width="5" height="15" fill="#000"/>
<rect x="1307" y="164" width="3" height="13" fill="#fff"/>
<rect x="1316" y="136" width="1" height="30" fill="#000"/>
<rect x="1314" y="148" width="5" height="16" fill="#000"/>
<rect x="1315" y="149" width="3" height="14" fill="#fff"/>
<rect x="1324" y="141" width="1" height="41" fill="#000"/>
<rect x="1322" y="146" width="5" height="23" fill="#000"/>
<rect x="1332" y="163" width="1" height="16" fill="#000"/>
<rect x="1330" y="168" width="5" height="7" fill="#000"/>
<rect x="1340" y="175" width="1" height="11" fill="#000"/>
<rect x="1338" y="177" width="5" height="2" fill="#000"/>
<rect x="1348" y="166" width="1" height="18" fill="#000"/>
<rect x="1346" y="174" width="5" height="4" fill="#000"/>
<rect x="1347" y="175" width="3" height="2" fill="#fff"/>
</g>
<rect x="1274" y="152" width="79" height="11" fill="#00ff00"/>
<rect x="1421" y="155" width="8" height="1" fill="#ff0000"/>
<rect x="1428" y="153" width="4" height="4" fill="#ff0000"/>
<rect x="1429" y="154" width="2" height="2" fill="#ffffff"/>
<rect x="1431" y="140" width="100" height="33" fill="#ff0000"/>
<rect x="1432" y="141" width="98" height="31" fill="#ffffff"/>
<text x="1433" y="166.5" font-family="'Liberation Sans', 'Noto Sans CJK SC', sans-serif" font-size="27.5" fill="#ff0000" textLength="96" lengthAdjust="spacingAndGlyphs">7.09106</text>
<text x="1388.5" y="257" font-family="'Liberation Sans', 'Noto Sans CJK SC', sans-serif" font-size="31" letter-spacing="1" font-weight="400" fill="#000">多空转折点</text>
<text x="1389.5" y="256" font-family="'Liberation Sans', 'Noto Sans CJK SC', sans-serif" font-size="31" letter-spacing="1" font-weight="400" fill="#00ff00">多空转折点</text>
<g font-family="'Liberation Sans', 'Noto Sans CJK SC', sans-serif">
<text transform="translate(1630,55) scale(1,1.1)" font-size="9.5" fill="#000">7.19990</text>
<text transform="translate(1630,88) scale(1,1.1)" font-size="9.5" fill="#000">7.16590</text>
<text transform="translate(1630,121) scale(1,1.1)" font-size="9.5" fill="#000">7.13190</text>
<text transform="translate(1630,154) scale(1,1.1)" font-size="9.5" fill="#000">7.09890</text>
<text transform="translate(1630,187) scale(1,1.1)" font-size="9.5" fill="#000">7.06490</text>
<text transform="translate(1630,220) scale(1,1.1)" font-size="9.5" fill="#000">7.03090</text>
<text transform="translate(1630,253) scale(1,1.1)" font-size="9.5" fill="#000">6.99690</text>
<text transform="translate(1630,286) scale(1,1.1)" font-size="9.5" fill="#000">6.96290</text>
<text transform="translate(1630,319) scale(1,1.1)" font-size="9.5" fill="#000">6.92890</text>
<text transform="translate(1630,352) scale(1,1.1)" font-size="9.5" fill="#000">6.89590</text>
<text transform="translate(1630,385) scale(1,1.1)" font-size="9.5" fill="#000">6.86190</text>
<text transform="translate(1630,418) scale(1,1.1)" font-size="9.5" fill="#000">6.82790</text>
<text transform="translate(1630,451) scale(1,1.1)" font-size="9.5" fill="#000">6.79390</text>
<text transform="translate(1630,484) scale(1,1.1)" font-size="9.5" fill="#000">6.75990</text>
<text transform="translate(1630,517) scale(1,1.1)" font-size="9.5" fill="#000">6.72590</text>
<text transform="translate(1630,550) scale(1,1.1)" font-size="9.5" fill="#000">6.69190</text>
<text transform="translate(1630,583) scale(1,1.1)" font-size="9.5" fill="#000">6.65890</text>
<rect x="1626" y="102" width="41" height="11" fill="#ff0000"/>
<text transform="translate(1630,111.5) scale(1,1.1)" font-size="9.5" fill="#ffffff">7.14021</text>
<rect x="1626" y="126" width="41" height="11" fill="#ff0000"/>
<text transform="translate(1630,135.5) scale(1,1.1)" font-size="9.5" fill="#ffffff">7.11564</text>
<rect x="1626" y="150" width="41" height="11" fill="#00ff00"/>
<text transform="translate(1630,159.5) scale(1,1.1)" font-size="9.5" fill="#ffffff">7.09106</text>
<rect x="1626" y="169" width="41" height="11" fill="#000000"/>
<text transform="translate(1630,178.5) scale(1,1.1)" font-size="9.5" fill="#ffffff">7.07261</text>
<rect x="1626" y="195" width="41" height="11" fill="#0000ff"/>
<text transform="translate(1630,204.5) scale(1,1.1)" font-size="9.5" fill="#ffffff">7.04499</text>
<rect x="1626" y="219" width="41" height="11" fill="#0000ff"/>
<text transform="translate(1630,228.5) scale(1,1.1)" font-size="9.5" fill="#ffffff">7.02041</text>
</g>
<g shape-rendering="crispEdges" clip-path="url(#cmacd)">
<rect x="4" y="702" width="1" height="55" fill="#c0c0c0"/>
<rect x="12" y="702" width="1" height="55" fill="#c0c0c0"/>
<rect x="20" y="702" width="1" height="51" fill="#c0c0c0"/>
<rect x="28" y="702" width="1" height="49" fill="#c0c0c0"/>
<rect x="36" y="702" width="1" height="47" fill="#c0c0c0"/>
<rect x="44" y="702" width="1" height="43" fill="#c0c0c0"/>
<rect x="52" y="702" width="1" height="37" fill="#c0c0c0"/>
<rect x="60" y="702" width="1" height="32" fill="#c0c0c0"/>
<rect x="68" y="702" width="1" height="28" fill="#c0c0c0"/>
<rect x="76" y="702" width="1" height="28" fill="#c0c0c0"/>
<rect x="84" y="702" width="1" height="28" fill="#c0c0c0"/>
<rect x="92" y="702" width="1" height="25" fill="#c0c0c0"/>
<rect x="100" y="702" width="1" height="24" fill="#c0c0c0"/>
<rect x="108" y="702" width="1" height="21" fill="#c0c0c0"/>
<rect x="116" y="702" width="1" height="20" fill="#c0c0c0"/>
<rect x="124" y="702" width="1" height="24" fill="#c0c0c0"/>
<rect x="132" y="702" width="1" height="23" fill="#c0c0c0"/>
<rect x="140" y="702" width="1" height="19" fill="#c0c0c0"/>
<rect x="148" y="702" width="1" height="17" fill="#c0c0c0"/>
<rect x="156" y="702" width="1" height="15" fill="#c0c0c0"/>
<rect x="164" y="702" width="1" height="10" fill="#c0c0c0"/>
<rect x="172" y="702" width="1" height="7" fill="#c0c0c0"/>
<rect x="180" y="702" width="1" height="6" fill="#c0c0c0"/>
<rect x="188" y="702" width="1" height="6" fill="#c0c0c0"/>
<rect x="196" y="702" width="1" height="5" fill="#c0c0c0"/>
<rect x="204" y="702" width="1" height="6" fill="#c0c0c0"/>
<rect x="212" y="702" width="1" height="6" fill="#c0c0c0"/>
<rect x="220" y="702" width="1" height="7" fill="#c0c0c0"/>
<rect x="228" y="702" width="1" height="7" fill="#c0c0c0"/>
<rect x="236" y="702" width="1" height="6" fill="#c0c0c0"/>
<rect x="244" y="702" width="1" height="6" fill="#c0c0c0"/>
<rect x="252" y="702" width="1" height="4" fill="#c0c0c0"/>
<rect x="260" y="702" width="1" height="5" fill="#c0c0c0"/>
<rect x="268" y="702" width="1" height="7" fill="#c0c0c0"/>
<rect x="276" y="702" width="1" height="7" fill="#c0c0c0"/>
<rect x="284" y="702" width="1" height="12" fill="#c0c0c0"/>
<rect x="292" y="702" width="1" height="12" fill="#c0c0c0"/>
<rect x="300" y="702" width="1" height="10" fill="#c0c0c0"/>
<rect x="308" y="702" width="1" height="7" fill="#c0c0c0"/>
<rect x="316" y="702" width="1" height="3" fill="#c0c0c0"/>
<rect x="324" y="700" width="1" height="2" fill="#c0c0c0"/>
<rect x="332" y="697" width="1" height="5" fill="#c0c0c0"/>
<rect x="340" y="695" width="1" height="7" fill="#c0c0c0"/>
<rect x="348" y="694" width="1" height="8" fill="#c0c0c0"/>
<rect x="356" y="694" width="1" height="8" fill="#c0c0c0"/>
<rect x="364" y="691" width="1" height="11" fill="#c0c0c0"/>
<rect x="372" y="691" width="1" height="11" fill="#c0c0c0"/>
<rect x="380" y="683" width="1" height="19" fill="#c0c0c0"/>
<rect x="388" y="676" width="1" height="26" fill="#c0c0c0"/>
<rect x="396" y="670" width="1" height="32" fill="#c0c0c0"/>
<rect x="404" y="659" width="1" height="43" fill="#c0c0c0"/>
<rect x="412" y="650" width="1" height="52" fill="#c0c0c0"/>
<rect x="420" y="633" width="1" height="69" fill="#c0c0c0"/>
<rect x="428" y="622" width="1" height="80" fill="#c0c0c0"/>
<rect x="436" y="614" width="1" height="88" fill="#c0c0c0"/>
<rect x="444" y="605" width="1" height="97" fill="#c0c0c0"/>
<rect x="452" y="597" width="1" height="105" fill="#c0c0c0"/>
<rect x="460" y="594" width="1" height="108" fill="#c0c0c0"/>
<rect x="468" y="593" width="1" height="109" fill="#c0c0c0"/>
<rect x="476" y="593" width="1" height="109" fill="#c0c0c0"/>
<rect x="484" y="595" width="1" height="107" fill="#c0c0c0"/>
<rect x="492" y="600" width="1" height="102" fill="#c0c0c0"/>
<rect x="500" y="606" width="1" height="96" fill="#c0c0c0"/>
<rect x="508" y="610" width="1" height="92" fill="#c0c0c0"/>
<rect x="516" y="613" width="1" height="89" fill="#c0c0c0"/>
<rect x="524" y="615" width="1" height="87" fill="#c0c0c0"/>
<rect x="532" y="618" width="1" height="84" fill="#c0c0c0"/>
<rect x="540" y="624" width="1" height="78" fill="#c0c0c0"/>
<rect x="548" y="629" width="1" height="73" fill="#c0c0c0"/>
<rect x="556" y="632" width="1" height="70" fill="#c0c0c0"/>
<rect x="564" y="636" width="1" height="66" fill="#c0c0c0"/>
<rect x="572" y="637" width="1" height="65" fill="#c0c0c0"/>
<rect x="580" y="639" width="1" height="63" fill="#c0c0c0"/>
<rect x="588" y="644" width="1" height="58" fill="#c0c0c0"/>
<rect x="596" y="648" width="1" height="54" fill="#c0c0c0"/>
<rect x="604" y="651" width="1" height="51" fill="#c0c0c0"/>
<rect x="612" y="653" width="1" height="49" fill="#c0c0c0"/>
<rect x="620" y="657" width="1" height="45" fill="#c0c0c0"/>
<rect x="628" y="665" width="1" height="37" fill="#c0c0c0"/>
<rect x="636" y="673" width="1" height="29" fill="#c0c0c0"/>
<rect x="644" y="684" width="1" height="18" fill="#c0c0c0"/>
<rect x="652" y="692" width="1" height="10" fill="#c0c0c0"/>
<rect x="660" y="697" width="1" height="5" fill="#c0c0c0"/>
<rect x="668" y="700" width="1" height="2" fill="#c0c0c0"/>
<rect x="684" y="702" width="1" height="3" fill="#c0c0c0"/>
<rect x="692" y="702" width="1" height="6" fill="#c0c0c0"/>
<rect x="700" y="702" width="1" height="11" fill="#c0c0c0"/>
<rect x="708" y="702" width="1" height="10" fill="#c0c0c0"/>
<rect x="716" y="702" width="1" height="9" fill="#c0c0c0"/>
<rect x="724" y="702" width="1" height="10" fill="#c0c0c0"/>
<rect x="732" y="702" width="1" height="7" fill="#c0c0c0"/>
<rect x="740" y="702" width="1" height="6" fill="#c0c0c0"/>
<rect x="748" y="702" width="1" height="4" fill="#c0c0c0"/>
<rect x="756" y="702" width="1" height="6" fill="#c0c0c0"/>
<rect x="764" y="702" width="1" height="7" fill="#c0c0c0"/>
<rect x="772" y="702" width="1" height="7" fill="#c0c0c0"/>
<rect x="780" y="702" width="1" height="7" fill="#c0c0c0"/>
<rect x="788" y="702" width="1" height="7" fill="#c0c0c0"/>
<rect x="796" y="702" width="1" height="7" fill="#c0c0c0"/>
<rect x="804" y="702" width="1" height="7" fill="#c0c0c0"/>
<rect x="812" y="702" width="1" height="6" fill="#c0c0c0"/>
<rect x="820" y="702" width="1" height="6" fill="#c0c0c0"/>
<rect x="828" y="702" width="1" height="4" fill="#c0c0c0"/>
<rect x="836" y="702" width="1" height="5" fill="#c0c0c0"/>
<rect x="844" y="702" width="1" height="6" fill="#c0c0c0"/>
<rect x="852" y="702" width="1" height="5" fill="#c0c0c0"/>
<rect x="860" y="702" width="1" height="3" fill="#c0c0c0"/>
<rect x="868" y="702" width="1" height="1" fill="#c0c0c0"/>
<rect x="876" y="699" width="1" height="3" fill="#c0c0c0"/>
<rect x="884" y="686" width="1" height="16" fill="#c0c0c0"/>
<rect x="892" y="675" width="1" height="27" fill="#c0c0c0"/>
<rect x="900" y="643" width="1" height="59" fill="#c0c0c0"/>
<rect x="908" y="631" width="1" height="71" fill="#c0c0c0"/>
<rect x="916" y="617" width="1" height="85" fill="#c0c0c0"/>
<rect x="924" y="607" width="1" height="95" fill="#c0c0c0"/>
<rect x="932" y="599" width="1" height="103" fill="#c0c0c0"/>
<rect x="940" y="593" width="1" height="109" fill="#c0c0c0"/>
<rect x="948" y="602" width="1" height="100" fill="#c0c0c0"/>
<rect x="956" y="606" width="1" height="96" fill="#c0c0c0"/>
<rect x="964" y="610" width="1" height="92" fill="#c0c0c0"/>
<rect x="972" y="615" width="1" height="87" fill="#c0c0c0"/>
<rect x="980" y="615" width="1" height="87" fill="#c0c0c0"/>
<rect x="988" y="616" width="1" height="86" fill="#c0c0c0"/>
<rect x="996" y="619" width="1" height="83" fill="#c0c0c0"/>
<rect x="1004" y="619" width="1" height="83" fill="#c0c0c0"/>
<rect x="1012" y="612" width="1" height="90" fill="#c0c0c0"/>
<rect x="1020" y="603" width="1" height="99" fill="#c0c0c0"/>
<rect x="1028" y="597" width="1" height="105" fill="#c0c0c0"/>
<rect x="1036" y="594" width="1" height="108" fill="#c0c0c0"/>
<rect x="1044" y="596" width="1" height="106" fill="#c0c0c0"/>
<rect x="1052" y="596" width="1" height="106" fill="#c0c0c0"/>
<rect x="1060" y="593" width="1" height="109" fill="#c0c0c0"/>
<rect x="1068" y="594" width="1" height="108" fill="#c0c0c0"/>
<rect x="1076" y="600" width="1" height="102" fill="#c0c0c0"/>
<rect x="1084" y="608" width="1" height="94" fill="#c0c0c0"/>
<rect x="1092" y="621" width="1" height="81" fill="#c0c0c0"/>
<rect x="1100" y="629" width="1" height="73" fill="#c0c0c0"/>
<rect x="1108" y="638" width="1" height="64" fill="#c0c0c0"/>
<rect x="1116" y="648" width="1" height="54" fill="#c0c0c0"/>
<rect x="1124" y="662" width="1" height="40" fill="#c0c0c0"/>
<rect x="1132" y="676" width="1" height="26" fill="#c0c0c0"/>
<rect x="1140" y="684" width="1" height="18" fill="#c0c0c0"/>
<rect x="1148" y="687" width="1" height="15" fill="#c0c0c0"/>
<rect x="1156" y="689" width="1" height="13" fill="#c0c0c0"/>
<rect x="1164" y="689" width="1" height="13" fill="#c0c0c0"/>
<rect x="1172" y="687" width="1" height="15" fill="#c0c0c0"/>
<rect x="1180" y="686" width="1" height="16" fill="#c0c0c0"/>
<rect x="1188" y="686" width="1" height="16" fill="#c0c0c0"/>
<rect x="1196" y="684" width="1" height="18" fill="#c0c0c0"/>
<rect x="1204" y="682" width="1" height="20" fill="#c0c0c0"/>
<rect x="1212" y="677" width="1" height="25" fill="#c0c0c0"/>
<rect x="1220" y="674" width="1" height="28" fill="#c0c0c0"/>
<rect x="1228" y="672" width="1" height="30" fill="#c0c0c0"/>
<rect x="1236" y="670" width="1" height="32" fill="#c0c0c0"/>
<rect x="1244" y="672" width="1" height="30" fill="#c0c0c0"/>
<rect x="1252" y="677" width="1" height="25" fill="#c0c0c0"/>
<rect x="1260" y="678" width="1" height="24" fill="#c0c0c0"/>
<rect x="1268" y="674" width="1" height="28" fill="#c0c0c0"/>
<rect x="1276" y="672" width="1" height="30" fill="#c0c0c0"/>
<rect x="1284" y="679" width="1" height="23" fill="#c0c0c0"/>
<rect x="1292" y="689" width="1" height="13" fill="#c0c0c0"/>
<rect x="1300" y="698" width="1" height="4" fill="#c0c0c0"/>
<rect x="1308" y="702" width="1" height="1" fill="#c0c0c0"/>
<rect x="1316" y="702" width="1" height="2" fill="#c0c0c0"/>
<rect x="1324" y="702" width="1" height="6" fill="#c0c0c0"/>
<rect x="1332" y="702" width="1" height="10" fill="#c0c0c0"/>
<rect x="1340" y="702" width="1" height="14" fill="#c0c0c0"/>
<rect x="1348" y="702" width="1" height="16" fill="#c0c0c0"/>
</g>
<polyline points="-3.5,735.0 2.5,736.5 10.1,739.5 21.1,746.1 29.2,748.0 36.8,749.3 45.5,751.8 52.5,751.0 60.5,749.3 68.5,746.8 76.5,743.8 84.5,740.8 92.5,737.9 100.5,735.2 108.5,732.3 116.5,729.7 124.5,728.2 132.5,727.1 140.5,726.1 148.5,724.9 156.5,723.4 164.5,721.7 172.5,719.8 180.5,718.1 188.5,716.5 196.5,714.4 204.5,712.5 212.5,711.1 220.5,710.0 228.5,709.1 236.5,708.6 244.5,708.5 252.5,708.2 260.5,708.2 268.5,708.5 276.5,708.6 284.5,709.2 292.5,709.7 300.5,710.1 308.5,710.1 316.5,709.8 324.5,709.1 332.5,708.0 340.5,706.4 348.5,704.8 356.5,702.5 364.5,700.1 372.5,697.8 380.5,695.0 388.5,691.8 396.5,688.5 404.5,684.2 412.5,679.2 420.5,672.5 428.5,664.5 436.5,656.0 444.5,646.4 452.5,636.9 460.5,627.7 468.5,619.2 476.5,611.8 484.5,605.7 492.5,602.1 500.5,600.4 508.5,599.9 516.5,600.8 524.5,602.7 532.5,605.4 540.5,608.9 548.5,612.8 556.5,616.9 564.5,620.9 572.5,624.3 580.5,627.4 588.5,630.8 596.5,634.5 604.5,638.1 612.5,641.4 620.5,644.5 628.5,648.2 636.5,652.3 644.5,657.5 652.5,663.4 660.5,669.4 668.5,675.2 676.5,680.8 684.5,686.6 692.5,692.3 700.5,697.6 708.5,701.9 716.5,705.0 724.5,707.2 732.5,708.5 740.5,709.4 748.5,709.9 756.5,710.2 764.5,710.3 772.5,709.9 780.5,709.6 788.5,709.3 796.5,708.9 804.5,708.9 812.5,708.9 820.5,709.1 828.5,708.9 836.5,708.7 844.5,708.6 852.5,708.4 860.5,708.0 868.5,707.3 876.5,706.1 884.5,703.6 892.5,700.0 900.5,692.9 908.5,684.4 916.5,674.3 924.5,663.2 932.5,651.5 940.5,639.2 948.5,628.6 956.5,619.7 964.5,612.5 972.5,609.4 980.5,607.6 988.5,607.6 996.5,608.9 1004.5,611.1 1012.5,613.3 1020.5,613.3 1028.5,612.4 1036.5,610.5 1044.5,608.5 1052.5,606.4 1060.5,603.7 1068.5,600.9 1076.5,598.8 1084.5,598.3 1092.5,600.3 1100.5,603.8 1108.5,608.7 1116.5,614.5 1124.5,621.8 1132.5,631.0 1140.5,641.0 1148.5,650.7 1156.5,659.7 1164.5,667.3 1172.5,673.7 1180.5,679.1 1188.5,683.4 1196.5,685.8 1204.5,686.5 1212.5,685.8 1220.5,684.3 1228.5,682.4 1236.5,680.3 1244.5,678.7 1252.5,677.7 1260.5,676.8 1268.5,675.7 1276.5,674.6 1284.5,674.8 1292.5,676.4 1300.5,679.3 1308.5,682.8 1316.5,686.3 1324.5,689.7 1332.5,693.6 1340.5,698.2 1348.5,703.4" fill="none" stroke="#ff0000" stroke-width="1" stroke-dasharray="3,3" shape-rendering="crispEdges" clip-path="url(#cmacd)"/>
<g font-family="'Liberation Sans', 'Noto Sans CJK SC', sans-serif">
<text transform="translate(1,596) scale(1,1.1)" font-size="9.5" fill="#000">MACD(12,26,9) -0.008218 -0.000465</text>
<text transform="translate(1628,595) scale(1,1.1)" font-size="9.5" fill="#000">0.060317</text>
<text transform="translate(1628,707) scale(1,1.1)" font-size="9.5" fill="#000">0.00</text>
<text transform="translate(1625.5,764) scale(1,1.1)" font-size="9.5" fill="#000">-0.032648</text>
</g>
<g shape-rendering="crispEdges">
<rect x="1625" y="585" width="1" height="1" fill="#000"/>
<rect x="1625" y="702" width="2" height="1" fill="#000"/>
<rect x="1625" y="765" width="1" height="1" fill="#000"/>
</g>
<g shape-rendering="crispEdges">
<line x1="3" y1="801.5" x2="1624" y2="801.5" stroke="#c0c0c0" stroke-width="1" stroke-dasharray="3,3"/>
<line x1="3" y1="848.5" x2="1624" y2="848.5" stroke="#c0c0c0" stroke-width="1" stroke-dasharray="3,3"/>
<line x1="3" y1="904.5" x2="1624" y2="904.5" stroke="#c0c0c0" stroke-width="1" stroke-dasharray="3,3"/>
</g>
<polyline points="-3.5,877.7 4.5,878.8 12.5,870.6 20.5,860.4 28.5,863.9 36.5,863.9 44.5,860.0 52.5,851.8 60.5,852.2 68.5,853.1 76.5,861.5 84.5,863.4 92.5,853.9 100.5,857.8 108.5,853.2 116.5,855.0 124.5,868.5 132.5,856.5 140.5,848.7 148.5,853.5 156.5,850.4 164.5,844.1 172.5,844.1 180.5,850.7 188.5,851.2 196.5,848.7 204.5,855.1 212.5,854.0 220.5,857.0 228.5,851.1 236.5,851.6 244.5,851.6 252.5,845.9 260.5,857.3 268.5,858.4 276.5,852.9 284.5,869.3 292.5,854.4 300.5,850.2 308.5,843.8 316.5,840.6 324.5,835.3 332.5,840.6 340.5,839.7 348.5,840.3 356.5,844.9 364.5,836.4 372.5,842.9 380.5,823.4 388.5,821.0 396.5,818.3 404.5,809.8 412.5,807.7 420.5,797.4 428.5,803.5 436.5,803.5 444.5,799.7 452.5,798.3 460.5,803.1 468.5,807.3 476.5,806.0 484.5,811.1 492.5,819.0 500.5,822.0 508.5,818.6 516.5,816.4 524.5,814.5 532.5,817.3 540.5,826.7 548.5,824.9 556.5,823.1 564.5,823.1 572.5,817.7 580.5,817.3 588.5,831.7 596.5,830.4 604.5,829.0 612.5,827.2 620.5,830.5 628.5,853.7 636.5,854.8 644.5,869.0 652.5,866.4 660.5,860.1 668.5,854.1 676.5,854.7 684.5,860.8 692.5,861.4 700.5,868.1 708.5,852.2 716.5,852.2 724.5,857.0 732.5,845.0 740.5,848.4 748.5,845.7 756.5,857.0 764.5,854.7 772.5,852.8 780.5,855.1 788.5,851.2 796.5,853.6 804.5,855.6 812.5,850.4 820.5,849.7 828.5,848.1 836.5,855.7 844.5,857.2 852.5,849.5 860.5,841.2 868.5,843.0 876.5,830.6 884.5,808.7 892.5,807.2 900.5,788.5 908.5,818.8 916.5,814.5 924.5,815.2 932.5,813.5 940.5,813.0 948.5,838.7 956.5,832.8 964.5,833.4 972.5,833.7 980.5,828.4 988.5,828.7 996.5,830.8 1004.5,825.9 1012.5,817.9 1020.5,813.1 1028.5,814.3 1036.5,813.8 1044.5,824.1 1052.5,820.2 1060.5,815.4 1068.5,821.7 1076.5,832.0 1084.5,834.0 1092.5,845.6 1100.5,841.6 1108.5,844.0 1116.5,849.7 1124.5,857.6 1132.5,861.8 1140.5,855.7 1148.5,849.7 1156.5,848.8 1164.5,844.8 1172.5,840.2 1180.5,843.4 1188.5,844.1 1196.5,837.9 1204.5,838.3 1212.5,831.7 1220.5,833.9 1228.5,832.3 1236.5,832.8 1244.5,841.2 1252.5,850.3 1260.5,840.5 1268.5,832.3 1276.5,833.7 1284.5,853.6 1292.5,861.7 1300.5,862.8 1308.5,857.4 1316.5,851.9 1324.5,858.2 1332.5,860.1 1340.5,861.0 1348.5,859.7" fill="none" stroke="#1e90ff" stroke-width="1" shape-rendering="crispEdges" clip-path="url(#crsi)"/>
<g font-family="'Liberation Sans', 'Noto Sans CJK SC', sans-serif">
<text transform="translate(0.5,782) scale(1,1.1)" font-size="9.5" fill="#000">RSI(14) 43.2962</text>
<text transform="translate(1628,780) scale(1,1.1)" font-size="9.5" fill="#000">100</text>
<text transform="translate(1627,805) scale(1,1.1)" font-size="9.5" fill="#000">80</text>
<text transform="translate(1627,908) scale(1,1.1)" font-size="9.5" fill="#000">15</text>
<text transform="translate(1628,925) scale(1,1.1)" font-size="9.5" fill="#000">0</text>
<text transform="translate(1628,852) scale(1,1.1)" font-size="9.5" fill="#000">50</text>
</g>
<g shape-rendering="crispEdges">
<rect x="1625" y="770" width="1" height="1" fill="#000"/>
<rect x="1625" y="801" width="1" height="1" fill="#000"/>
<rect x="1625" y="848" width="1" height="1" fill="#000"/>
<rect x="1625" y="904" width="1" height="1" fill="#000"/>
<rect x="1625" y="927" width="1" height="1" fill="#000"/>
</g>
<g font-family="'Liberation Sans', 'Noto Sans CJK SC', sans-serif">
<text transform="translate(-6.5,942) scale(1,1.1)" font-size="9.5" fill="#000">26 Feb 2019</text>
<rect x="60" y="929" width="1" height="3" fill="#000"/>
<text transform="translate(59,942) scale(1,1.1)" font-size="9.5" fill="#000">8 Mar 2019</text>
<rect x="124" y="929" width="1" height="3" fill="#000"/>
<text transform="translate(123,942) scale(1,1.1)" font-size="9.5" fill="#000">20 Mar 2019</text>
<rect x="188" y="929" width="1" height="3" fill="#000"/>
<text transform="translate(187,942) scale(1,1.1)" font-size="9.5" fill="#000">1 Apr 2019</text>
<rect x="252" y="929" width="1" height="3" fill="#000"/>
<text transform="translate(251,942) scale(1,1.1)" font-size="9.5" fill="#000">11 Apr 2019</text>
<rect x="316" y="929" width="1" height="3" fill="#000"/>
<text transform="translate(315,942) scale(1,1.1)" font-size="9.5" fill="#000">24 Apr 2019</text>
<rect x="380" y="929" width="1" height="3" fill="#000"/>
<text transform="translate(379,942) scale(1,1.1)" font-size="9.5" fill="#000">6 May 2019</text>
<rect x="444" y="929" width="1" height="3" fill="#000"/>
<text transform="translate(443,942) scale(1,1.1)" font-size="9.5" fill="#000">16 May 2019</text>
<rect x="508" y="929" width="1" height="3" fill="#000"/>
<text transform="translate(507,942) scale(1,1.1)" font-size="9.5" fill="#000">28 May 2019</text>
<rect x="572" y="929" width="1" height="3" fill="#000"/>
<text transform="translate(571,942) scale(1,1.1)" font-size="9.5" fill="#000">7 Jun 2019</text>
<rect x="636" y="929" width="1" height="3" fill="#000"/>
<text transform="translate(635,942) scale(1,1.1)" font-size="9.5" fill="#000">19 Jun 2019</text>
<rect x="700" y="929" width="1" height="3" fill="#000"/>
<text transform="translate(699,942) scale(1,1.1)" font-size="9.5" fill="#000">1 Jul 2019</text>
<rect x="764" y="929" width="1" height="3" fill="#000"/>
<text transform="translate(763,942) scale(1,1.1)" font-size="9.5" fill="#000">11 Jul 2019</text>
<rect x="828" y="929" width="1" height="3" fill="#000"/>
<text transform="translate(827,942) scale(1,1.1)" font-size="9.5" fill="#000">23 Jul 2019</text>
<rect x="892" y="929" width="1" height="3" fill="#000"/>
<text transform="translate(891,942) scale(1,1.1)" font-size="9.5" fill="#000">2 Aug 2019</text>
<rect x="956" y="929" width="1" height="3" fill="#000"/>
<text transform="translate(955,942) scale(1,1.1)" font-size="9.5" fill="#000">14 Aug 2019</text>
<rect x="1020" y="929" width="1" height="3" fill="#000"/>
<text transform="translate(1019,942) scale(1,1.1)" font-size="9.5" fill="#000">26 Aug 2019</text>
<rect x="1084" y="929" width="1" height="3" fill="#000"/>
<text transform="translate(1083,942) scale(1,1.1)" font-size="9.5" fill="#000">5 Sep 2019</text>
<rect x="1148" y="929" width="1" height="3" fill="#000"/>
<text transform="translate(1147,942) scale(1,1.1)" font-size="9.5" fill="#000">17 Sep 2019</text>
<rect x="1212" y="929" width="1" height="3" fill="#000"/>
<text transform="translate(1211,942) scale(1,1.1)" font-size="9.5" fill="#000">27 Sep 2019</text>
<rect x="1276" y="929" width="1" height="3" fill="#000"/>
<text transform="translate(1275,942) scale(1,1.1)" font-size="9.5" fill="#000">9 Oct 2019</text>
<rect x="1340" y="929" width="1" height="3" fill="#000"/>
<text transform="translate(1339,942) scale(1,1.1)" font-size="9.5" fill="#000">21 Oct 2019</text>
</g>
<polygon points="0,39.5 6,39.5 3,35.5" fill="#000"/>
<g font-family="'Liberation Sans', 'Noto Sans CJK SC', sans-serif" font-size="9.8" fill="#000">
<text x="11.3" y="40.5" textLength="68.4" lengthAdjust="spacingAndGlyphs">USDCNH-,Daily</text>
<text x="86.2" y="40.5" textLength="32" lengthAdjust="spacingAndGlyphs">7.06987</text>
<text x="122.2" y="40.5" textLength="32" lengthAdjust="spacingAndGlyphs">7.08158</text>
<text x="158.2" y="40.5" textLength="32" lengthAdjust="spacingAndGlyphs">7.06381</text>
<text x="194.2" y="40.5" textLength="32" lengthAdjust="spacingAndGlyphs">7.07261</text>
</g>
<g>
<rect x="0" y="44" width="220" height="70" fill="#ffffff"/>
<rect x="50" y="46" width="118" height="27" fill="#f7f7f7"/>
<path d="M0,48 H50 V72 H107 V112 H0 Z" fill="url(#gBig)"/>
<rect x="0" y="48" width="50" height="24" fill="url(#gTab)"/>
<rect x="3" y="71" width="45" height="1" fill="#f08080"/>
<path d="M166,48 H218 V112 H110 V72 H166 Z" fill="url(#gBig)"/>
<rect x="166" y="48" width="52" height="24" fill="url(#gTab)"/>
<rect x="170" y="71" width="45" height="1" fill="#f08080"/>
<rect x="107" y="72" width="1" height="40" fill="#a00000"/>
<rect x="217" y="48" width="1" height="64" fill="#a00000"/>
<rect x="53" y="48" width="111" height="22" fill="#a0a0a0"/>
<rect x="54" y="49" width="109" height="20" fill="#ffffff"/>
<rect x="54" y="49" width="20" height="20" fill="url(#gBtn)"/>
<rect x="143" y="49" width="20" height="20" fill="url(#gBtn)"/>
<rect x="74" y="49" width="1" height="20" fill="#b4b4b4"/>
<rect x="142" y="49" width="1" height="20" fill="#b4b4b4"/>
<polygon points="60.5,57 67.5,57 64,61" fill="#000"/>
<polygon points="149.5,61 156.5,61 153,57" fill="#000"/>
<g font-family="'Liberation Sans', 'Noto Sans CJK SC', sans-serif">
<text x="115.5" y="63.5" font-size="12.6" fill="#000">1.00</text>
<text x="11" y="64" font-size="12.5" fill="#ffffff" textLength="26" lengthAdjust="spacingAndGlyphs">SELL</text>
<text x="179.5" y="64" font-size="12.5" fill="#ffffff" textLength="23" lengthAdjust="spacingAndGlyphs">BUY</text>
<text x="19" y="102.5" font-size="12.5" font-weight="bold" fill="#ffffff">7.07</text>
<text x="46.5" y="102.5" font-size="32.5" fill="#ffffff">26</text>
<text x="86.5" y="86" font-size="11.5" font-weight="bold" fill="#ffffff">1</text>
<text x="128.5" y="102.5" font-size="12.5" font-weight="bold" fill="#ffffff">7.07</text>
<text x="157" y="102.5" font-size="32.5" fill="#ffffff">88</text>
<text x="196.5" y="86" font-size="11.5" font-weight="bold" fill="#ffffff">0</text>
</g>
</g>
<path d="M0,4.5 H4.5 L7.5,7.5 V14 H0 Z" fill="#ffffff" stroke="#9a9a9a" stroke-width="0.9"/>
<path d="M4.5,4.5 V7.5 H7.5" fill="none" stroke="#9a9a9a" stroke-width="0.7"/>
<path d="M0,14.5 H3.5 V11 H7 V14.5 H10.5 V18 H7 V21.5 H3.5 V18 H0 Z" fill="#2cc02c" stroke="#0c8a0c" stroke-width="0.7"/>
<path d="M62.5,14 L68.5,5 L78,12.5 L71,20 Z" fill="#c88a1c"/>
<path d="M63,13 L68.5,5.2 L77,11.8 L70.8,18.2 Z" fill="#f0c83a"/>
<path d="M65,12.5 L69,7.2 L75,11.7 L70.5,16 Z" fill="#fae27a"/>
<path d="M92,5 L94,3.8 L103,3.8 L103,13 L101,14.5 L92,14.5 Z" fill="#1a7fe0"/>
<rect x="92" y="5" width="9" height="9.5" fill="#2a90ee" stroke="#0e5cb0" stroke-width="0.6"/>
<rect x="94.5" y="7.5" width="5" height="1.6" fill="#d8ecff"/><rect x="94.5" y="10.2" width="5" height="1.2" fill="#a8d0f8"/>
<path d="M91,19.5 Q88.5,19.5 88.8,17 Q89.2,14.6 92,15 Q92.5,12 95.8,12.3 Q98.5,10.6 101,12.8 Q104.5,12.4 104.8,15.4 Q107.2,16 106.5,18.2 Q106,19.6 103.5,19.5 Z" fill="#f4f7fb" stroke="#8aa4c8" stroke-width="0.9"/>
<circle cx="126" cy="12" r="7.3" fill="none" stroke="#7fa6d8" stroke-width="1"/>
<circle cx="126" cy="12" r="4.8" fill="none" stroke="#5a8ad0" stroke-width="1"/>
<circle cx="126" cy="12" r="2" fill="#2a5cc8"/>
<path d="M126,12 V19.5 M126,19.5 A7.3,7.3 0 0 0 133,13" stroke="#2aa02a" stroke-width="1.2" fill="none"/>
<path d="M146,11 L158,11 L154,19 L150,19 Z" fill="#f2d24a" stroke="#b09020" stroke-width="0.7"/>
<ellipse cx="153" cy="9" rx="8" ry="2.6" fill="#5aaee8" stroke="#2c78b8" stroke-width="0.6"/>
<ellipse cx="153" cy="7" rx="4.2" ry="3.2" fill="#7cc4f0" stroke="#2c78b8" stroke-width="0.6"/>
<circle cx="157" cy="16" r="4" fill="#d42a1a"/>
<rect x="155.2" y="14.2" width="3.6" height="3.6" fill="#ffffff"/>
<text x="14" y="15.5" font-family="'Liberation Sans', 'Noto Sans CJK SC', sans-serif" font-size="12" fill="#000">新订单</text>
<text x="166.5" y="15.5" font-family="'Liberation Sans', 'Noto Sans CJK SC', sans-serif" font-size="12" fill="#000">自动交易</text>
<rect x="221" y="1" width="1" height="21" fill="#a0a0a0"/><rect x="222" y="1" width="1" height="21" fill="#ffffff"/>
<rect x="225" y="3" width="3" height="1" fill="#b0b0b0"/>
<rect x="225" y="5" width="3" height="1" fill="#b0b0b0"/>
<rect x="225" y="7" width="3" height="1" fill="#b0b0b0"/>
<rect x="225" y="9" width="3" height="1" fill="#b0b0b0"/>
<rect x="225" y="11" width="3" height="1" fill="#b0b0b0"/>
<rect x="225" y="13" width="3" height="1" fill="#b0b0b0"/>
<rect x="225" y="15" width="3" height="1" fill="#b0b0b0"/>
<rect x="225" y="17" width="3" height="1" fill="#b0b0b0"/>
<rect x="225" y="19" width="3" height="1" fill="#b0b0b0"/>
<rect x="225" y="21" width="3" height="1" fill="#b0b0b0"/>
<g stroke="#505050" stroke-width="1.2" fill="none" stroke-linecap="square"><path d="M239.5,6 V19.5 M237,17.5 H250"/></g><path d="M237.5,8 L239.5,5.5 L241.5,8 Z M249,15.5 L251.5,17.5 L249,19.5 Z" fill="#505050"/>
<path d="M244,14.5 H246 V7.5 H248" stroke="#22a022" stroke-width="1.2" fill="none"/>
<rect x="259" y="0" width="26" height="22" fill="#f9f9f9"/>
<rect x="259" y="0" width="26" height="1" fill="#a0a0a0"/>
<rect x="259" y="0" width="1" height="22" fill="#a0a0a0"/>
<rect x="259" y="22" width="26" height="1" fill="#ffffff"/>
<g stroke="#505050" stroke-width="1.2" fill="none" stroke-linecap="square"><path d="M267.5,6 V19.5 M265,17.5 H278"/></g><path d="M265.5,8 L267.5,5.5 L269.5,8 Z M277,15.5 L279.5,17.5 L277,19.5 Z" fill="#505050"/>
<rect x="271" y="2.5" width="1" height="13" fill="#18a018"/>
<rect x="269.5" y="5.5" width="4.5" height="8" fill="#48e048" stroke="#118811" stroke-width="0.8"/>
<g stroke="#505050" stroke-width="1.2" fill="none" stroke-linecap="square"><path d="M295.5,6 V19.5 M293,17.5 H306"/></g><path d="M293.5,8 L295.5,5.5 L297.5,8 Z M305,15.5 L307.5,17.5 L305,19.5 Z" fill="#505050"/>
<path d="M294,14.5 Q298,9 300,8.5 Q302,8.5 306,12.5" stroke="#2a9a2a" stroke-width="1" fill="none"/>
<rect x="316" y="1" width="1" height="21" fill="#a0a0a0"/><rect x="317" y="1" width="1" height="21" fill="#ffffff"/>
<path d="M335,15 L340,20" stroke="#c8a020" stroke-width="3" stroke-linecap="round"/>
<circle cx="331" cy="10" r="5.6" fill="#d8ecff" stroke="#3a80d0" stroke-width="1.3"/>
<path d="M328,10 H334 M331,7 V13" stroke="#3a78c0" stroke-width="1.6"/>
<path d="M363,15 L368,20" stroke="#c8a020" stroke-width="3" stroke-linecap="round"/>
<circle cx="359" cy="10" r="5.6" fill="#d8ecff" stroke="#3a80d0" stroke-width="1.3"/>
<path d="M356,10 H362" stroke="#3a78c0" stroke-width="1.6"/>
<rect x="381" y="4" width="8" height="8" fill="#3aa820"/>
<rect x="382.5" y="7.5" width="5" height="2.5" fill="#ffffff"/>
<rect x="389" y="4" width="8" height="8" fill="#2a60d8"/>
<rect x="390.5" y="7.5" width="5" height="2.5" fill="#ffffff"/>
<rect x="381" y="12" width="8" height="8" fill="#2a60d8"/>
<rect x="382.5" y="15.5" width="5" height="2.5" fill="#ffffff"/>
<rect x="389" y="12" width="8" height="8" fill="#3aa820"/>
<rect x="390.5" y="15.5" width="5" height="2.5" fill="#ffffff"/>
<rect x="406" y="1" width="1" height="21" fill="#a0a0a0"/><rect x="407" y="1" width="1" height="21" fill="#ffffff"/>
<rect x="411" y="0" width="25" height="22" fill="#f9f9f9"/>
<rect x="411" y="0" width="25" height="1" fill="#a0a0a0"/>
<rect x="411" y="0" width="1" height="22" fill="#a0a0a0"/>
<rect x="411" y="22" width="25" height="1" fill="#ffffff"/>
<g stroke="#505050" stroke-width="1.2" fill="none" stroke-linecap="square"><path d="M419.5,6 V19.5 M417,17.5 H430"/></g><path d="M417.5,8 L419.5,5.5 L421.5,8 Z M429,15.5 L431.5,17.5 L429,19.5 Z" fill="#505050"/>
<polygon points="424.5,8 424.5,15 428.5,11.5" fill="#30c030" stroke="#109010" stroke-width="0.6"/>
<rect x="439" y="0" width="25" height="22" fill="#f9f9f9"/>
<rect x="439" y="0" width="25" height="1" fill="#a0a0a0"/>
<rect x="439" y="0" width="1" height="22" fill="#a0a0a0"/>
<rect x="439" y="22" width="25" height="1" fill="#ffffff"/>
<g stroke="#505050" stroke-width="1.2" fill="none" stroke-linecap="square"><path d="M447.5,6 V19.5 M445,17.5 H458"/></g><path d="M445.5,8 L447.5,5.5 L449.5,8 Z M457,15.5 L459.5,17.5 L457,19.5 Z" fill="#505050"/>
<rect x="453" y="6" width="1" height="10" fill="#1a70b0"/><path d="M455,11.5 H460 M455.5,11.5 L458,9 M455.5,11.5 L458,14" stroke="#e04010" stroke-width="1.2"/>
<rect x="468" y="1" width="1" height="21" fill="#a0a0a0"/><rect x="469" y="1" width="1" height="21" fill="#ffffff"/>
<path d="M478,4.5 H485 L488,7.5 V17 H478 Z" fill="#ffffff" stroke="#7a7a7a" stroke-width="0.8"/>
<path d="M482,13 H486 V9.5 H489.5 V13 H493.5 V16.5 H489.5 V21 H486 V16.5 H482 Z" fill="#22b022" stroke="#0c800c" stroke-width="0.6"/>
<polygon points="500,11 506,11 503,14.5" fill="#000"/>
<circle cx="524" cy="12" r="7.5" fill="#1e6ad0"/><circle cx="524" cy="12" r="5.6" fill="#f4f8fc"/>
<path d="M524,8 V12 H527" stroke="#222" stroke-width="1" fill="none"/>
<polygon points="539,11 545,11 542,14.5" fill="#000"/>
<rect x="555.5" y="5.5" width="15" height="14" fill="#ffffff" stroke="#3a6ab8" stroke-width="1"/>
<rect x="556" y="6" width="14" height="2" fill="#5a8ad8"/>
<path d="M557,13 L560,12 L563,12.5 L566,11 L569,11.5" stroke="#b02010" stroke-width="1" fill="none"/>
<path d="M557,18 L560,16 L563,17 L566,15 L569,17" stroke="#20a020" stroke-width="1" fill="none"/>
<polygon points="578,11 584,11 581,14.5" fill="#000"/>
<rect x="589" y="1" width="1" height="21" fill="#a0a0a0"/><rect x="590" y="1" width="1" height="21" fill="#ffffff"/>
<rect x="593" y="3" width="3" height="1" fill="#b0b0b0"/>
<rect x="593" y="5" width="3" height="1" fill="#b0b0b0"/>
<rect x="593" y="7" width="3" height="1" fill="#b0b0b0"/>
<rect x="593" y="9" width="3" height="1" fill="#b0b0b0"/>
<rect x="593" y="11" width="3" height="1" fill="#b0b0b0"/>
<rect x="593" y="13" width="3" height="1" fill="#b0b0b0"/>
<rect x="593" y="15" width="3" height="1" fill="#b0b0b0"/>
<rect x="593" y="17" width="3" height="1" fill="#b0b0b0"/>
<rect x="593" y="19" width="3" height="1" fill="#b0b0b0"/>
<rect x="593" y="21" width="3" height="1" fill="#b0b0b0"/>
<rect x="599" y="0" width="25" height="22" fill="#f9f9f9"/>
<rect x="599" y="0" width="25" height="1" fill="#a0a0a0"/>
<rect x="599" y="0" width="1" height="22" fill="#a0a0a0"/>
<rect x="599" y="22" width="25" height="1" fill="#ffffff"/>
<path d="M607,4.5 L614.5,12 L611,12.5 L613.2,18 L611.5,18.8 L609.3,13.3 L607,15.5 Z" fill="#4a4a4a"/>
<path d="M632,12.5 H638 M641,12.5 H647 M639.5,5 V11 M639.5,14 V20" stroke="#4a4a4a" stroke-width="1.1"/>
<rect x="656" y="1" width="1" height="21" fill="#a0a0a0"/><rect x="657" y="1" width="1" height="21" fill="#ffffff"/>
<rect x="673" y="6" width="1.2" height="13" fill="#4a4a4a"/>
<rect x="696" y="12" width="12" height="1.2" fill="#4a4a4a"/>
<path d="M723.5,19 L736,6.5" stroke="#4a4a4a" stroke-width="1.1"/>
<path d="M750,16 L760,5 M752,19 L763,8 M752,12 H760 M751,15 H758 M755,4 L756,14 M759,4 L760,12" stroke="#4a4a4a" stroke-width="0.9" fill="none"/>
<text x="760.5" y="20.5" font-family="'Liberation Sans', 'Noto Sans CJK SC', sans-serif" font-size="7.5" font-weight="bold" fill="#4a4a4a">E</text>
<line x1="779" y1="5.5" x2="792" y2="5.5" stroke="#4a4a4a" stroke-width="0.9" stroke-dasharray="1,1"/>
<line x1="779" y1="8.5" x2="792" y2="8.5" stroke="#4a4a4a" stroke-width="0.9" stroke-dasharray="1,1"/>
<line x1="779" y1="12" x2="792" y2="12" stroke="#4a4a4a" stroke-width="0.9" stroke-dasharray="1,1"/>
<line x1="779" y1="16" x2="792" y2="16" stroke="#4a4a4a" stroke-width="0.9" stroke-dasharray="1,1"/>
<text x="788.5" y="21" font-family="'Liberation Sans', 'Noto Sans CJK SC', sans-serif" font-size="7.5" font-weight="bold" fill="#4a4a4a">F</text>
<text x="809.5" y="17.5" font-family="'Liberation Sans', 'Noto Sans CJK SC', sans-serif" font-size="12" font-weight="bold" fill="#5a5a5a">A</text>
<rect x="835.5" y="5.5" width="12" height="13" fill="none" stroke="#4a4a4a" stroke-width="0.9" stroke-dasharray="1,1"/>
<text x="837.5" y="16.5" font-family="'Liberation Sans', 'Noto Sans CJK SC', sans-serif" font-size="11" font-weight="bold" fill="#4a4a4a">T</text>
<polygon points="866,7 868.5,5 871,7 868.5,9" fill="#4a4a4a"/><polygon points="871,15.5 874,13 877,15.5 874,18.5" fill="#4a4a4a"/><path d="M866,10 L869,13 L874,8" stroke="#4a4a4a" stroke-width="1.1" fill="none"/>
<polygon points="884,11 890,11 887,14.5" fill="#000"/>
<rect x="895" y="1" width="1" height="21" fill="#a0a0a0"/><rect x="896" y="1" width="1" height="21" fill="#ffffff"/>
<rect x="899" y="3" width="3" height="1" fill="#b0b0b0"/>
<rect x="899" y="5" width="3" height="1" fill="#b0b0b0"/>
<rect x="899" y="7" width="3" height="1" fill="#b0b0b0"/>
<rect x="899" y="9" width="3" height="1" fill="#b0b0b0"/>
<rect x="899" y="11" width="3" height="1" fill="#b0b0b0"/>
<rect x="899" y="13" width="3" height="1" fill="#b0b0b0"/>
<rect x="899" y="15" width="3" height="1" fill="#b0b0b0"/>
<rect x="899" y="17" width="3" height="1" fill="#b0b0b0"/>
<rect x="899" y="19" width="3" height="1" fill="#b0b0b0"/>
<rect x="899" y="21" width="3" height="1" fill="#b0b0b0"/>
<rect x="1073" y="0" width="26" height="22" fill="#f9f9f9"/>
<rect x="1073" y="0" width="26" height="1" fill="#a0a0a0"/>
<rect x="1073" y="0" width="1" height="22" fill="#a0a0a0"/>
<rect x="1073" y="22" width="26" height="1" fill="#ffffff"/>
<text x="910" y="16" font-family="'Liberation Sans', 'Noto Sans CJK SC', sans-serif" font-size="10" fill="#303030" textLength="14" lengthAdjust="spacingAndGlyphs">M1</text>
<text x="938" y="16" font-family="'Liberation Sans', 'Noto Sans CJK SC', sans-serif" font-size="10" fill="#303030" textLength="13" lengthAdjust="spacingAndGlyphs">M5</text>
<text x="965" y="16" font-family="'Liberation Sans', 'Noto Sans CJK SC', sans-serif" font-size="10" fill="#303030" textLength="17" lengthAdjust="spacingAndGlyphs">M15</text>
<text x="992" y="16" font-family="'Liberation Sans', 'Noto Sans CJK SC', sans-serif" font-size="10" fill="#303030" textLength="18" lengthAdjust="spacingAndGlyphs">M30</text>
<text x="1023.5" y="16" font-family="'Liberation Sans', 'Noto Sans CJK SC', sans-serif" font-size="10" fill="#303030" textLength="12" lengthAdjust="spacingAndGlyphs">H1</text>
<text x="1050.5" y="16" font-family="'Liberation Sans', 'Noto Sans CJK SC', sans-serif" font-size="10" fill="#303030" textLength="12.5" lengthAdjust="spacingAndGlyphs">H4</text>
<text x="1079" y="16" font-family="'Liberation Sans', 'Noto Sans CJK SC', sans-serif" font-size="10" fill="#303030" textLength="12.5" lengthAdjust="spacingAndGlyphs">D1</text>
<text x="1107" y="16" font-family="'Liberation Sans', 'Noto Sans CJK SC', sans-serif" font-size="10" fill="#303030" textLength="14.5" lengthAdjust="spacingAndGlyphs">W1</text>
<text x="1133.5" y="16" font-family="'Liberation Sans', 'Noto Sans CJK SC', sans-serif" font-size="10" fill="#303030" textLength="14.5" lengthAdjust="spacingAndGlyphs">MN</text>
<rect x="1156" y="1" width="1" height="21" fill="#a0a0a0"/><rect x="1157" y="1" width="1" height="21" fill="#ffffff"/>
<circle cx="1627" cy="9.5" r="4.3" fill="none" stroke="#2a62d0" stroke-width="1.4"/>
<path d="M1624,12.5 L1619.5,17" stroke="#2a62d0" stroke-width="2.2" stroke-linecap="round"/>
<ellipse cx="1658" cy="9" rx="6.5" ry="4.8" fill="#e4e4e4" stroke="#8a8a8a" stroke-width="0.8"/>
<ellipse cx="1650" cy="12.5" rx="5.5" ry="4.2" fill="#ececec" stroke="#8a8a8a" stroke-width="0.8"/>
<path d="M1647,16 L1646,19 L1650,16.5" fill="#ececec" stroke="#6a6a6a" stroke-width="0.8"/>
</svg>
</body></html>
